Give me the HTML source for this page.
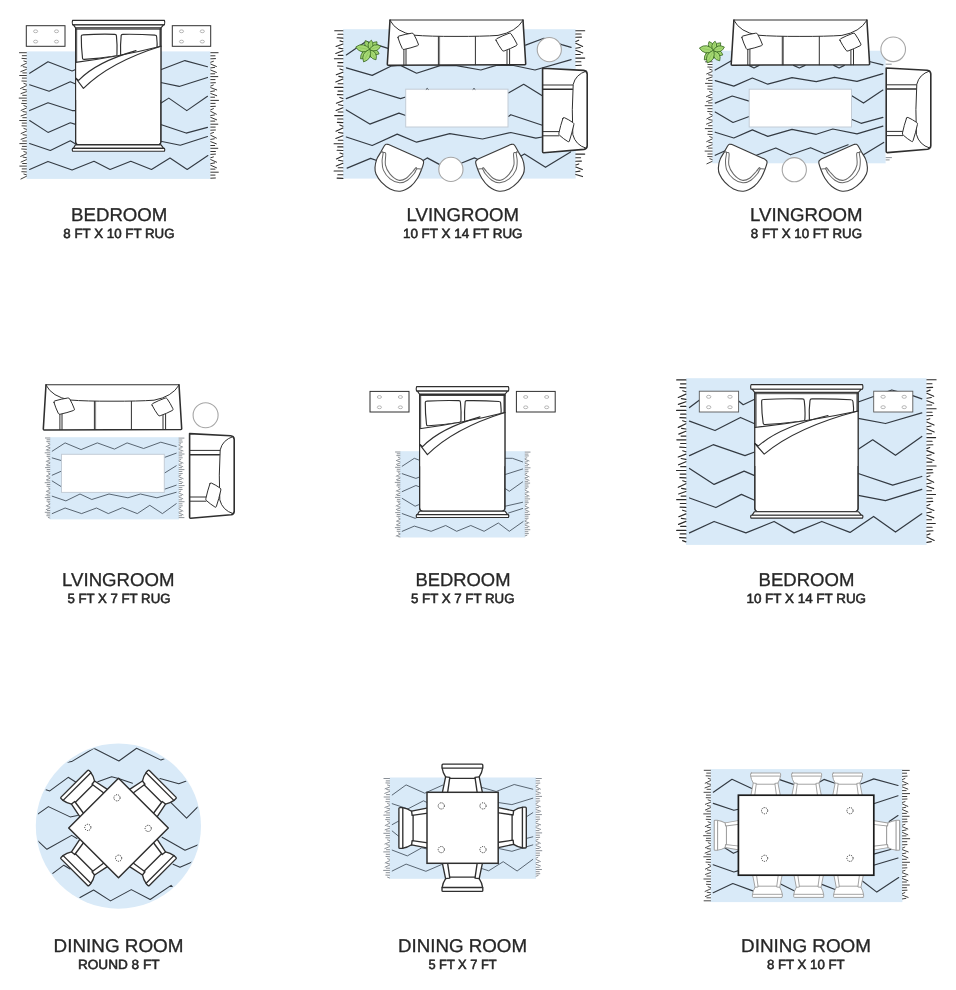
<!DOCTYPE html>
<html><head><meta charset="utf-8"><title>Rug size guide</title>
<style>
html,body{margin:0;padding:0;background:#fff;}
body{width:956px;height:990px;overflow:hidden;font-family:"Liberation Sans",sans-serif;}
svg{display:block;font-family:"Liberation Sans",sans-serif;}
text{text-rendering:geometricPrecision;}
</style></head><body>
<svg width="956" height="990" viewBox="0 0 956 990">
<rect width="956" height="990" fill="#fff"/>
<rect x="26.5" y="51.4" width="183.9" height="127.5" fill="#d9eaf8"/>
<path d="M26.4,52.7L19.5,52.7M26.4,55.7L22.3,55.7M26.4,58.7L22.0,58.4M26.4,61.7L23.9,61.0M26.4,63.3L21.1,65.9M26.4,67.4L23.2,66.7M26.4,69.4L20.8,71.6M26.4,72.9L22.8,72.9M26.4,75.5L19.7,75.5M26.4,78.1L22.3,78.1M26.4,81.2L21.9,81.0M26.4,84.2L23.9,83.4M26.4,85.7L20.6,88.5M26.4,89.9L22.9,89.3M26.4,91.7L21.0,93.6M26.4,95.3L22.7,95.3M26.4,98.1L19.2,98.1M26.4,100.7L22.4,100.7M26.4,103.6L21.7,103.4M26.4,106.5L23.9,105.6M26.4,108.1L21.1,110.4M26.4,112.1L22.9,111.6M26.4,114.1L21.1,115.9M26.4,117.7L22.8,117.7M26.4,120.5L19.7,120.5M26.4,123.1L22.2,123.1M26.4,126.0L22.0,125.8M26.4,129.3L23.9,128.5M26.4,131.2L21.1,133.5M26.4,135.2L23.0,134.7M26.4,137.4L21.1,139.3M26.4,141.0L22.7,141.0M26.4,143.6L19.8,143.6M26.4,146.4L22.3,146.4M26.4,149.3L21.7,149.0M26.4,152.3L23.9,151.6M26.4,153.8L20.7,156.4M26.4,157.7L23.1,157.1M26.4,159.7L21.1,162.0M26.4,163.5L22.6,163.5M26.4,166.1L19.8,166.1M26.4,168.9L22.2,168.9M26.4,171.9L21.8,171.7M26.4,174.8L23.9,174.1M26.4,176.3L20.9,179.0" fill="none" stroke="#2a2a2a" stroke-width="0.90" stroke-linecap="round"/>
<path d="M210.8,52.7L218.1,52.7M210.8,55.8L215.0,55.8M210.8,58.8L215.5,58.6M210.8,62.2L213.4,61.3M210.8,64.1L216.4,66.5M210.8,67.9L214.6,67.4M210.8,70.1L216.4,72.4M210.8,73.8L214.7,73.8M210.8,76.6L217.8,76.6M210.8,79.6L215.0,79.6M210.8,82.9L215.4,82.7M210.8,86.0L213.3,85.0M210.8,87.7L216.7,89.9M210.8,91.5L214.5,90.9M210.8,93.5L216.7,95.7M210.8,97.2L214.6,97.2M210.8,100.4L218.5,100.4M210.8,103.4L215.1,103.4M210.8,106.5L215.4,106.3M210.8,109.7L213.4,108.7M210.8,111.4L216.3,114.2M210.8,115.5L214.4,115.0M210.8,117.4L216.6,119.8M210.8,121.1L214.8,121.1M210.8,124.2L217.8,124.2M210.8,127.1L215.2,127.1M210.8,130.2L215.4,130.0M210.8,133.4L213.5,132.5M210.8,135.3L216.4,138.1M210.8,139.4L214.3,138.8M210.8,141.7L216.3,143.8M210.8,145.5L214.7,145.5M210.8,148.3L217.8,148.3M210.8,151.5L215.4,151.5M210.8,154.4L215.5,154.1M210.8,157.7L213.4,156.9M210.8,159.6L216.6,162.2M210.8,163.6L214.6,162.9M210.8,165.3L216.5,167.8M210.8,169.1L215.0,169.1M210.8,172.2L218.3,172.2M210.8,175.1L215.0,175.1M210.8,178.2L215.4,178.0" fill="none" stroke="#2a2a2a" stroke-width="0.95" stroke-linecap="round"/>
<polyline points="29.6,73.3 48.0,61.8 72.1,71.0 75.6,69.4" fill="none" stroke="#333a42" stroke-width="1.1" stroke-linejoin="round" stroke-linecap="round" />
<polyline points="29.6,84.8 49.1,91.2 70.3,81.8 75.6,84.1" fill="none" stroke="#333a42" stroke-width="1.1" stroke-linejoin="round" stroke-linecap="round" />
<polyline points="29.6,110.6 48.0,102.8 72.1,110.6 75.6,110.6" fill="none" stroke="#333a42" stroke-width="1.1" stroke-linejoin="round" stroke-linecap="round" />
<polyline points="29.6,120.5 48.0,132.4 70.3,122.8 75.6,124.4" fill="none" stroke="#333a42" stroke-width="1.1" stroke-linejoin="round" stroke-linecap="round" />
<polyline points="29.6,143.5 50.3,150.4 70.3,140.7 75.6,144.0" fill="none" stroke="#333a42" stroke-width="1.1" stroke-linejoin="round" stroke-linecap="round" />
<polyline points="29.6,169.5 48.0,161.4 72.1,170.0 94.0,161.2 110.1,169.5 130.8,161.2 151.5,169.5 170.0,158.0 187.2,169.5 207.9,155.5" fill="none" stroke="#333a42" stroke-width="1.1" stroke-linejoin="round" stroke-linecap="round" />
<polyline points="160.7,69.8 184.9,60.6 207.5,66.8" fill="none" stroke="#333a42" stroke-width="1.1" stroke-linejoin="round" stroke-linecap="round" />
<polyline points="160.7,82.5 179.2,86.4 207.5,77.4" fill="none" stroke="#333a42" stroke-width="1.1" stroke-linejoin="round" stroke-linecap="round" />
<polyline points="160.7,103.2 168.8,98.1 186.8,110.6 207.5,96.3" fill="none" stroke="#333a42" stroke-width="1.1" stroke-linejoin="round" stroke-linecap="round" />
<polyline points="160.7,124.4 186.1,133.1 207.5,127.4" fill="none" stroke="#333a42" stroke-width="1.1" stroke-linejoin="round" stroke-linecap="round" />
<polyline points="160.7,141.2 180.3,145.3 207.5,136.6" fill="none" stroke="#333a42" stroke-width="1.1" stroke-linejoin="round" stroke-linecap="round" />
<rect x="26.3" y="25.7" width="38.7" height="20.6" rx="0" fill="#fff" stroke="#2f2f2f" stroke-width="1.0"/>
<ellipse cx="35.6" cy="31.3" rx="2.1" ry="1.4" fill="none" stroke="#999" stroke-width="0.7"/>
<ellipse cx="35.6" cy="41.6" rx="2.1" ry="1.4" fill="none" stroke="#999" stroke-width="0.7"/>
<ellipse cx="56.5" cy="31.3" rx="2.1" ry="1.4" fill="none" stroke="#999" stroke-width="0.7"/>
<ellipse cx="56.5" cy="41.6" rx="2.1" ry="1.4" fill="none" stroke="#999" stroke-width="0.7"/>
<rect x="172.3" y="25.7" width="38.4" height="20.6" rx="0" fill="#fff" stroke="#2f2f2f" stroke-width="1.0"/>
<ellipse cx="181.5" cy="31.3" rx="2.1" ry="1.4" fill="none" stroke="#999" stroke-width="0.7"/>
<ellipse cx="181.5" cy="41.6" rx="2.1" ry="1.4" fill="none" stroke="#999" stroke-width="0.7"/>
<ellipse cx="202.3" cy="31.3" rx="2.1" ry="1.4" fill="none" stroke="#999" stroke-width="0.7"/>
<ellipse cx="202.3" cy="41.6" rx="2.1" ry="1.4" fill="none" stroke="#999" stroke-width="0.7"/>
<path d="M 75.6,28.0 L 75.6,141.5 Q 75.6,144.9 79.0,144.9 L 157.5,144.9 Q 160.9,144.9 160.9,141.5 L 160.9,28.0 Z" fill="#fff" stroke="#2f2f2f" stroke-width="1.15" stroke-linejoin="round" stroke-linecap="round" />
<polyline points="76.7,29.0 76.7,62.0" fill="none" stroke="#2f2f2f" stroke-width="0.8049999999999999" stroke-linejoin="round" stroke-linecap="round" />
<polyline points="159.9,29.0 159.9,46.0" fill="none" stroke="#2f2f2f" stroke-width="0.8049999999999999" stroke-linejoin="round" stroke-linecap="round" />
<path d="M 72.6,20.3 L 164.4,20.3 Q 165.2,22.5 164.4,24.8 L 72.6,24.8 Q 71.8,22.5 72.6,20.3 Z" fill="#fff" stroke="#2f2f2f" stroke-width="1.15" stroke-linejoin="round" stroke-linecap="round" />
<path d="M 73.4,24.8 L 163.6,24.8 L 161.2,27.7 L 75.4,27.7 Z" fill="#fff" stroke="#2f2f2f" stroke-width="1.15" stroke-linejoin="round" stroke-linecap="round" />
<polyline points="75.6,29.2 160.9,29.2" fill="none" stroke="#2f2f2f" stroke-width="0.9199999999999999" stroke-linejoin="round" stroke-linecap="round" />
<path d="M81.29,36.50Q81.20,34.90 82.80,34.87Q98.77,33.90 114.80,34.33Q116.40,34.30 116.44,35.90Q117.40,45.11 116.96,54.40Q117.00,56.00 115.41,56.17Q99.83,58.50 84.19,59.43Q82.60,59.60 82.51,58.00Q81.20,47.29 81.29,36.50Z" fill="#fff" stroke="#2f2f2f" stroke-width="1.15" stroke-linejoin="round" stroke-linecap="round" />
<path d="M121.16,35.90Q121.20,34.30 122.80,34.34Q138.90,34.05 155.00,35.16Q156.60,35.20 156.64,36.80Q157.50,43.57 156.96,50.40Q157.00,52.00 155.41,52.17Q138.80,54.70 122.19,55.83Q120.60,56.00 120.64,54.40Q120.20,45.18 121.16,35.90Z" fill="#fff" stroke="#2f2f2f" stroke-width="1.15" stroke-linejoin="round" stroke-linecap="round" />
<path d="M 75.6,62.4 Q 120.0,56.0 160.9,46.2 L 160.9,100.0 L 75.6,100.0 Z" fill="#fff" stroke="none" stroke-width="0" stroke-linejoin="round" stroke-linecap="round" />
<path d="M 75.6,62.4 Q 120.0,56.5 160.9,46.2" fill="none" stroke="#2f2f2f" stroke-width="1.15" stroke-linejoin="round" stroke-linecap="round" />
<path d="M 75.6,78.0 L 78.6,80.4 Q 96.0,62.0 136.0,50.6" fill="none" stroke="#2f2f2f" stroke-width="1.15" stroke-linejoin="round" stroke-linecap="round" />
<path d="M 75.6,78.0 L 83.4,88.4 Q 110.0,62.0 160.9,46.2" fill="none" stroke="#2f2f2f" stroke-width="1.15" stroke-linejoin="round" stroke-linecap="round" />
<path d="M 75.6,28.0 L 75.6,141.5 Q 75.6,144.9 79.0,144.9 L 157.5,144.9 Q 160.9,144.9 160.9,141.5 L 160.9,28.0" fill="none" stroke="#2f2f2f" stroke-width="1.15" stroke-linejoin="round" stroke-linecap="round" />
<path d="M 75.4,144.9 L 161.1,144.9 L 163.6,148.3 L 73.4,148.3 Z" fill="#fff" stroke="#2f2f2f" stroke-width="1.15" stroke-linejoin="round" stroke-linecap="round" />
<path d="M 72.6,148.3 L 164.4,148.3 Q 165.2,149.7 164.4,151.2 L 72.6,151.2 Q 71.8,149.7 72.6,148.3 Z" fill="#fff" stroke="#2f2f2f" stroke-width="1.15" stroke-linejoin="round" stroke-linecap="round" />
<rect x="343.0" y="29.2" width="232.7" height="149.4" fill="#d9eaf8"/>
<path d="M342.9,30.8L334.7,30.8M342.9,34.3L337.9,34.3M342.9,38.1L337.1,37.8M342.9,41.8L340.0,40.9M342.9,44.0L336.1,46.5M342.9,48.7L338.8,48.1M342.9,50.8L335.8,53.5M342.9,55.4L338.2,55.4M342.9,58.8L334.4,58.8M342.9,62.6L337.9,62.6M342.9,66.3L337.5,66.0M342.9,70.0L339.9,69.0M342.9,72.3L336.3,74.8M342.9,77.1L338.8,76.4M342.9,79.1L335.8,82.0M342.9,83.8L338.1,83.8M342.9,87.4L334.7,87.4M342.9,91.1L338.0,91.1M342.9,94.8L337.4,94.6M342.9,98.6L339.9,97.4M342.9,100.7L336.4,103.3M342.9,105.5L338.5,104.8M342.9,107.7L336.1,110.5M342.9,112.0L338.2,112.0M342.9,115.6L334.7,115.6M342.9,119.0L337.6,119.0M342.9,122.6L337.4,122.4M342.9,126.2L339.8,125.0M342.9,128.1L336.0,131.2M342.9,133.1L338.5,132.5M342.9,135.7L335.8,138.4M342.9,140.3L338.3,140.3M342.9,143.7L334.1,143.7M342.9,146.9L337.7,146.9M342.9,150.5L337.1,150.3M342.9,154.1L340.0,153.1M342.9,156.1L336.4,158.9M342.9,161.0L338.5,160.3M342.9,163.2L336.3,166.1M342.9,167.7L338.2,167.7M342.9,171.0L334.1,171.0M342.9,174.7L337.8,174.7M342.9,178.4L337.1,178.1" fill="none" stroke="#2a2a2a" stroke-width="1.10" stroke-linecap="round"/>
<path d="M575.8,30.8L584.7,30.8M575.8,34.0L581.1,34.0M575.8,37.3L581.5,37.1M575.8,41.4L578.7,40.2M575.8,43.2L582.6,46.5M575.8,48.2L580.2,47.5M575.8,50.2L582.8,52.9M575.8,54.5L580.3,54.5M575.8,58.1L584.7,58.1M575.8,61.8L580.9,61.8M575.8,65.5L581.2,65.2" fill="none" stroke="#2a2a2a" stroke-width="1.10" stroke-linecap="round"/>
<path d="M575.8,154.1L584.7,154.1M575.8,157.8L580.6,157.8M575.8,161.3L581.4,161.1M575.8,164.9L578.8,163.9M575.8,167.1L582.3,169.6M575.8,171.8L580.0,171.1M575.8,174.4L582.5,176.6" fill="none" stroke="#2a2a2a" stroke-width="1.10" stroke-linecap="round"/>
<polyline points="346.3,54.9 366.0,41.4 388.0,48.4" fill="none" stroke="#333a42" stroke-width="1.2" stroke-linejoin="round" stroke-linecap="round" />
<polyline points="525.6,45.1 543.9,38.3 561.7,44.6 571.1,47.4" fill="none" stroke="#333a42" stroke-width="1.2" stroke-linejoin="round" stroke-linecap="round" />
<polyline points="346.3,67.8 372.2,75.4 390.8,66.2 400.5,65.4 416.6,73.2 440.1,65.6 455.0,65.4 480.9,70.0 496.2,65.4 513.6,65.5 535.0,70.0 571.1,59.6" fill="none" stroke="#333a42" stroke-width="1.2" stroke-linejoin="round" stroke-linecap="round" />
<polyline points="346.3,98.6 369.8,89.2 400.5,98.6 405.7,97.0" fill="none" stroke="#333a42" stroke-width="1.2" stroke-linejoin="round" stroke-linecap="round" />
<polyline points="346.3,109.9 369.8,124.1 398.9,113.1 405.7,115.5" fill="none" stroke="#333a42" stroke-width="1.2" stroke-linejoin="round" stroke-linecap="round" />
<polyline points="508.4,92.9 523.7,84.3 542.3,95.7" fill="none" stroke="#333a42" stroke-width="1.2" stroke-linejoin="round" stroke-linecap="round" />
<polyline points="508.4,116.4 510.8,114.7 542.3,125.2" fill="none" stroke="#333a42" stroke-width="1.2" stroke-linejoin="round" stroke-linecap="round" />
<polyline points="346.3,137.0 372.2,145.5 397.2,134.1 416.6,142.2 449.8,133.7 482.5,139.0 510.8,132.5 535.8,138.2 542.3,137.0" fill="none" stroke="#333a42" stroke-width="1.2" stroke-linejoin="round" stroke-linecap="round" />
<polyline points="347.1,168.1 370.6,158.4 379.0,161.2" fill="none" stroke="#333a42" stroke-width="1.2" stroke-linejoin="round" stroke-linecap="round" />
<polyline points="421.5,161.6 427.2,157.9 439.3,164.4" fill="none" stroke="#333a42" stroke-width="1.2" stroke-linejoin="round" stroke-linecap="round" />
<polyline points="461.1,163.2 474.4,157.9 478.0,159.5" fill="none" stroke="#333a42" stroke-width="1.2" stroke-linejoin="round" stroke-linecap="round" />
<polyline points="519.7,156.8 524.5,153.9 545.5,167.3 570.6,151.9" fill="none" stroke="#333a42" stroke-width="1.2" stroke-linejoin="round" stroke-linecap="round" />
<polygon points="361.0,48.0 367.0,44.0 370.8,43.8 374.2,44.8 376.5,47.4 375.5,52.3 373.6,55.9 365.9,57.2 364.1,55.4" fill="#3f7327" stroke="#3f7327" stroke-width="1.5" stroke-linejoin="round"/>
<path d="M369.9,50.1Q371.8,42.5 365.3,40.6Q362.8,46.8 369.9,50.1Z" fill="#a6d974" stroke="#35651f" stroke-width="0.8" stroke-linejoin="round"/>
<path d="M369.0,48.2L366.2,42.4" stroke="#86bf55" stroke-width="0.6" fill="none"/>
<path d="M369.3,50.0Q377.6,49.0 377.0,41.8Q369.8,41.7 369.3,50.0Z" fill="#a6d974" stroke="#35651f" stroke-width="0.8" stroke-linejoin="round"/>
<path d="M370.8,48.4L375.5,43.4" stroke="#86bf55" stroke-width="0.6" fill="none"/>
<path d="M369.2,49.4Q372.7,56.7 379.1,53.9Q377.0,47.3 369.2,49.4Z" fill="#a6d974" stroke="#35651f" stroke-width="0.8" stroke-linejoin="round"/>
<path d="M371.1,50.2L377.2,53.0" stroke="#86bf55" stroke-width="0.6" fill="none"/>
<path d="M370.2,49.1Q360.0,50.2 360.6,58.9Q369.3,59.3 370.2,49.1Z" fill="#a6d974" stroke="#35651f" stroke-width="0.8" stroke-linejoin="round"/>
<path d="M368.3,51.0L362.4,57.0" stroke="#86bf55" stroke-width="0.6" fill="none"/>
<path d="M369.6,50.1Q375.3,45.3 371.4,40.2Q365.9,43.6 369.6,50.1Z" fill="#a6d974" stroke="#35651f" stroke-width="0.8" stroke-linejoin="round"/>
<path d="M370.0,48.2L371.1,42.1" stroke="#86bf55" stroke-width="0.6" fill="none"/>
<path d="M369.4,49.1Q368.1,58.4 376.0,59.8Q378.3,52.1 369.4,49.1Z" fill="#a6d974" stroke="#35651f" stroke-width="0.8" stroke-linejoin="round"/>
<path d="M370.6,51.1L374.7,57.8" stroke="#86bf55" stroke-width="0.6" fill="none"/>
<path d="M370.4,49.7Q363.3,41.2 355.7,47.0Q360.7,55.2 370.4,49.7Z" fill="#a6d974" stroke="#35651f" stroke-width="0.8" stroke-linejoin="round"/>
<path d="M367.6,49.2L358.5,47.5" stroke="#86bf55" stroke-width="0.6" fill="none"/>
<path d="M369.1,49.8Q377.5,53.2 380.7,46.1Q374.0,42.2 369.1,49.8Z" fill="#a6d974" stroke="#35651f" stroke-width="0.8" stroke-linejoin="round"/>
<path d="M371.3,49.1L378.5,46.8" stroke="#86bf55" stroke-width="0.6" fill="none"/>
<path d="M370.0,49.0Q360.2,53.3 363.6,61.9Q372.5,59.4 370.0,49.0Z" fill="#a6d974" stroke="#35651f" stroke-width="0.8" stroke-linejoin="round"/>
<path d="M368.8,51.4L364.8,59.4" stroke="#86bf55" stroke-width="0.6" fill="none"/>
<path d="M 390.0,19.8 L 523.0,19.8 L 525.7,63.9 Q 525.7,64.6 524.8,64.7 L 388.2,65.2 Q 387.3,65.2 387.3,64.3 Z" fill="#fff" stroke="none" stroke-width="0" stroke-linejoin="round" stroke-linecap="round" />
<path d="M 390.0,20.0 L 523.0,20.0" fill="none" stroke="#2f2f2f" stroke-width="1.05" stroke-linejoin="round" stroke-linecap="round" />
<path d="M 390.0,20.0 L 387.3,64.3 Q 387.3,65.2 388.2,65.2 L 524.8,64.7 Q 525.7,64.6 525.7,63.9 L 523.0,20.0" fill="none" stroke="#2f2f2f" stroke-width="1.55" stroke-linejoin="round" stroke-linecap="round" />
<path d="M 390.2,20.6 Q 396.0,32.0 414.0,35.2 Q 430.0,36.5 456.0,36.4 Q 482.0,36.5 498.0,35.4 Q 516.0,32.0 522.8,20.6" fill="none" stroke="#2f2f2f" stroke-width="1.0" stroke-linejoin="round" stroke-linecap="round" />
<polyline points="438.4,36.6 438.4,64.8" fill="none" stroke="#2f2f2f" stroke-width="1.0" stroke-linejoin="round" stroke-linecap="round" />
<polyline points="439.6,36.6 439.6,64.8" fill="none" stroke="#2f2f2f" stroke-width="0.6" stroke-linejoin="round" stroke-linecap="round" />
<polyline points="475.4,36.6 475.4,64.8" fill="none" stroke="#2f2f2f" stroke-width="1.0" stroke-linejoin="round" stroke-linecap="round" />
<polyline points="403.9,49.5 403.9,64.8" fill="none" stroke="#2f2f2f" stroke-width="1.0" stroke-linejoin="round" stroke-linecap="round" />
<polyline points="406.0,49.0 406.0,64.8" fill="none" stroke="#2f2f2f" stroke-width="1.0" stroke-linejoin="round" stroke-linecap="round" />
<polyline points="507.0,50.5 507.0,64.8" fill="none" stroke="#2f2f2f" stroke-width="1.0" stroke-linejoin="round" stroke-linecap="round" />
<polyline points="509.6,49.5 509.6,64.8" fill="none" stroke="#2f2f2f" stroke-width="1.0" stroke-linejoin="round" stroke-linecap="round" />
<path d="M398.01,37.70Q397.50,36.40 398.87,36.09Q405.10,34.19 411.73,33.21Q413.10,32.90 413.69,34.17Q416.48,38.98 418.31,44.03Q418.90,45.30 417.55,45.68Q411.05,48.01 404.15,49.42Q402.80,49.80 402.29,48.50Q399.67,43.22 398.01,37.70Z" fill="#fff" stroke="#2f2f2f" stroke-width="1.0" stroke-linejoin="round" stroke-linecap="round" />
<path d="M496.13,40.49Q495.40,39.30 496.68,38.74Q502.64,35.57 509.12,33.26Q510.40,32.70 511.10,33.91Q514.46,38.70 516.90,43.89Q517.60,45.10 516.32,45.66Q510.51,48.73 504.18,50.94Q502.90,51.50 502.17,50.31Q498.69,45.60 496.13,40.49Z" fill="#fff" stroke="#2f2f2f" stroke-width="1.0" stroke-linejoin="round" stroke-linecap="round" />
<circle cx="549.3" cy="49.6" r="12.1" fill="#fff" stroke="#a6a6a6" stroke-width="1.1"/>
<rect x="405.7" y="89.2" width="102.3" height="37.8" rx="0" fill="#fff" stroke="#c3ccd6" stroke-width="1.0"/>
<polyline points="426.2,89.3 427.2,88.4 428.2,89.3" fill="none" stroke="#333a42" stroke-width="0.9" stroke-linejoin="round" stroke-linecap="round" />
<polyline points="473.0,89.3 474.0,88.4 475.0,89.3" fill="none" stroke="#333a42" stroke-width="0.9" stroke-linejoin="round" stroke-linecap="round" />
<path d="M 542.6,68.2 L 583.6,70.4 Q 587.0,70.8 587.2,74.0 L 587.2,146.0 Q 587.0,149.0 584.0,149.4 L 543.6,152.8 Q 542.6,152.8 542.6,151.8 Z" fill="#fff" stroke="#2f2f2f" stroke-width="1.6" stroke-linejoin="round" stroke-linecap="round" />
<path d="M 586.0,71.2 Q 575.5,74.5 573.2,84.5 Q 571.6,110.0 572.8,134.5 Q 575.5,145.0 586.0,148.2" fill="none" stroke="#2f2f2f" stroke-width="1.0" stroke-linejoin="round" stroke-linecap="round" />
<polyline points="543.0,85.0 572.8,85.0" fill="none" stroke="#2f2f2f" stroke-width="1.0" stroke-linejoin="round" stroke-linecap="round" />
<polyline points="543.0,89.3 572.4,89.3" fill="none" stroke="#2f2f2f" stroke-width="1.5" stroke-linejoin="round" stroke-linecap="round" />
<polyline points="543.0,131.6 559.0,131.6" fill="none" stroke="#2f2f2f" stroke-width="1.0" stroke-linejoin="round" stroke-linecap="round" />
<polyline points="543.0,135.8 559.0,135.8" fill="none" stroke="#2f2f2f" stroke-width="1.0" stroke-linejoin="round" stroke-linecap="round" />
<path d="M562.93,118.35Q563.30,117.00 564.51,117.70Q568.88,119.67 572.99,122.60Q574.20,123.30 573.83,124.65Q572.02,133.13 569.37,141.05Q569.00,142.40 567.88,141.56Q563.62,138.93 559.62,135.34Q558.50,134.50 558.87,133.15Q560.48,125.47 562.93,118.35Z" fill="#fff" stroke="#2f2f2f" stroke-width="1.0" stroke-linejoin="round" stroke-linecap="round" />
<path d="M421.2,159.1C421.6,159.4 422.9,160.2 423.3,160.9C423.7,161.6 423.8,162.0 423.5,163.4C423.2,164.8 422.5,167.0 421.5,169.5C420.5,172.0 419.3,175.4 417.5,178.2C415.7,181.0 413.7,184.0 410.8,186.2C407.9,188.4 403.6,190.8 400.1,191.2C396.7,191.6 393.2,190.4 390.1,188.9C387.0,187.4 383.8,184.7 381.4,182.2C379.0,179.7 377.1,176.5 376.0,174.1C374.9,171.7 374.9,169.9 375.0,167.5C375.1,165.1 375.8,161.9 376.7,159.4C377.6,156.9 379.4,154.6 380.7,152.4C381.9,150.2 383.3,147.3 384.2,146.0C385.1,144.7 385.3,144.6 386.0,144.3C386.7,144.1 388.2,144.5 388.6,144.5L421.2,159.1Z" fill="#fff" stroke="#3c3c3c" stroke-width="1.15" stroke-linejoin="round" stroke-linecap="round" />
<path d="M380.9,152.2C381.3,152.3 382.9,151.2 383.1,152.6C383.3,154.0 382.1,157.9 382.1,160.8C382.2,163.7 382.1,167.1 383.4,170.1C384.7,173.1 387.4,176.7 390.1,178.8C392.8,180.9 396.6,182.6 399.5,182.8C402.4,183.0 405.1,181.8 407.5,180.2C409.9,178.6 412.6,175.4 414.2,173.5C415.8,171.6 415.7,169.6 416.9,168.9C418.1,168.2 420.6,169.1 421.4,169.2" fill="none" stroke="#6a6a6a" stroke-width="1.035" stroke-linejoin="round" stroke-linecap="round" />
<path d="M383.1,152.6C383.5,152.8 385.3,151.6 385.7,153.6C386.1,155.6 384.7,161.4 385.4,164.8C386.1,168.2 387.9,171.5 390.1,174.1C392.3,176.7 396.1,179.5 398.8,180.2C401.5,180.9 403.9,179.6 406.2,178.2C408.5,176.8 411.2,173.2 412.8,171.5C414.4,169.8 415.2,168.1 415.9,167.7C416.6,167.3 416.7,168.7 416.9,168.9" fill="none" stroke="#6a6a6a" stroke-width="1.035" stroke-linejoin="round" stroke-linecap="round" />
<path d="M478.1,159.1C477.8,159.4 476.4,160.2 476.0,160.9C475.6,161.6 475.5,162.0 475.8,163.4C476.1,164.8 476.8,167.0 477.8,169.5C478.8,172.0 480.0,175.4 481.8,178.2C483.6,181.0 485.6,184.0 488.5,186.2C491.4,188.4 495.8,190.8 499.2,191.2C502.7,191.6 506.1,190.4 509.2,188.9C512.3,187.4 515.6,184.7 517.9,182.2C520.3,179.7 522.2,176.5 523.3,174.1C524.4,171.7 524.4,169.9 524.3,167.5C524.2,165.1 523.6,161.9 522.6,159.4C521.7,156.9 519.9,154.6 518.6,152.4C517.4,150.2 516.0,147.3 515.1,146.0C514.2,144.7 514.0,144.6 513.3,144.3C512.6,144.1 511.1,144.5 510.7,144.5L478.1,159.1Z" fill="#fff" stroke="#3c3c3c" stroke-width="1.15" stroke-linejoin="round" stroke-linecap="round" />
<path d="M518.4,152.2C518.0,152.3 516.4,151.2 516.2,152.6C516.0,154.0 517.2,157.9 517.2,160.8C517.2,163.7 517.2,167.1 515.9,170.1C514.6,173.1 511.9,176.7 509.2,178.8C506.5,180.9 502.7,182.6 499.8,182.8C496.9,183.0 494.3,181.8 491.8,180.2C489.4,178.6 486.7,175.4 485.1,173.5C483.5,171.6 483.6,169.6 482.4,168.9C481.2,168.2 478.7,169.1 477.9,169.2" fill="none" stroke="#6a6a6a" stroke-width="1.035" stroke-linejoin="round" stroke-linecap="round" />
<path d="M516.2,152.6C515.8,152.8 514.0,151.6 513.6,153.6C513.2,155.6 514.6,161.4 513.9,164.8C513.2,168.2 511.4,171.5 509.2,174.1C507.0,176.7 503.2,179.5 500.5,180.2C497.8,180.9 495.4,179.6 493.1,178.2C490.8,176.8 488.1,173.2 486.5,171.5C484.9,169.8 484.1,168.1 483.4,167.7C482.7,167.3 482.6,168.7 482.4,168.9" fill="none" stroke="#6a6a6a" stroke-width="1.035" stroke-linejoin="round" stroke-linecap="round" />
<circle cx="450.9" cy="169.4" r="12.1" fill="#fff" stroke="#a6a6a6" stroke-width="1.1"/>
<rect x="712.2" y="50.7" width="173.4" height="112.6" fill="#d9eaf8"/>
<path d="M712.1,61.8L705.6,61.8M712.1,64.5L708.0,64.5M712.1,67.2L707.8,67.0M712.1,70.1L709.7,69.2M712.1,71.6L706.7,73.9M712.1,75.3L708.6,74.8M712.1,77.0L706.4,79.0M712.1,80.4L708.5,80.4M712.1,83.4L705.5,83.4M712.1,86.2L708.0,86.2M712.1,89.2L707.7,89.0M712.1,92.4L709.6,91.6M712.1,94.2L706.5,96.6M712.1,97.9L708.6,97.3M712.1,99.7L706.6,101.6M712.1,102.9L708.5,102.9M712.1,105.7L705.2,105.7M712.1,108.7L707.9,108.7M712.1,111.7L707.7,111.5M712.1,114.8L709.7,113.9M712.1,116.1L706.8,118.8M712.1,120.1L708.7,119.6M712.1,121.9L706.5,124.1M712.1,125.7L708.5,125.7M712.1,128.6L705.3,128.6M712.1,131.4L708.2,131.4M712.1,134.5L707.8,134.3M712.1,137.5L709.7,136.6M712.1,139.0L706.7,141.6M712.1,142.8L708.8,142.3M712.1,144.8L706.9,146.7M712.1,148.1L708.3,148.1M712.1,151.1L705.1,151.1M712.1,154.0L707.9,154.0M712.1,156.7L707.7,156.5M712.1,159.5L709.8,158.8M712.1,161.4L706.9,163.8" fill="none" stroke="#2a2a2a" stroke-width="0.88" stroke-linecap="round"/>
<path d="M886.1,64.2L891.3,64.2" fill="none" stroke="#5d656e" stroke-width="0.70" stroke-linecap="round"/>
<path d="M886.1,157.6L891.5,157.6M886.1,159.9L889.2,159.9" fill="none" stroke="#5d656e" stroke-width="0.70" stroke-linecap="round"/>
<polyline points="715.2,70.1 731.4,60.7" fill="none" stroke="#333a42" stroke-width="1.2" stroke-linejoin="round" stroke-linecap="round" />
<polyline points="749.0,65.4 754.0,68.0 759.0,65.4" fill="none" stroke="#333a42" stroke-width="1.2" stroke-linejoin="round" stroke-linecap="round" />
<polyline points="793.6,65.4 799.3,68.0 805.0,65.4" fill="none" stroke="#333a42" stroke-width="1.2" stroke-linejoin="round" stroke-linecap="round" />
<polyline points="833.8,65.4 839.1,68.0 844.3,65.4" fill="none" stroke="#333a42" stroke-width="1.2" stroke-linejoin="round" stroke-linecap="round" />
<polyline points="869.2,61.5 882.9,64.8" fill="none" stroke="#333a42" stroke-width="1.2" stroke-linejoin="round" stroke-linecap="round" />
<polyline points="715.2,80.6 733.8,86.1 752.4,78.0 767.8,84.2 792.0,77.7 816.3,81.7 834.4,77.4 857.0,81.4 882.9,73.7" fill="none" stroke="#333a42" stroke-width="1.2" stroke-linejoin="round" stroke-linecap="round" />
<polyline points="715.2,103.1 732.2,96.0 749.2,101.1" fill="none" stroke="#333a42" stroke-width="1.2" stroke-linejoin="round" stroke-linecap="round" />
<polyline points="715.2,112.1 733.0,122.5 749.2,116.5" fill="none" stroke="#333a42" stroke-width="1.2" stroke-linejoin="round" stroke-linecap="round" />
<polyline points="851.4,95.5 863.5,103.1 882.9,90.1" fill="none" stroke="#333a42" stroke-width="1.2" stroke-linejoin="round" stroke-linecap="round" />
<polyline points="851.4,119.2 861.1,123.3 882.9,117.3" fill="none" stroke="#333a42" stroke-width="1.2" stroke-linejoin="round" stroke-linecap="round" />
<polyline points="715.2,132.2 733.8,138.0 752.4,129.9 767.8,136.4 792.0,129.4 816.3,134.3 832.8,129.0 857.0,133.8 882.9,126.2" fill="none" stroke="#333a42" stroke-width="1.2" stroke-linejoin="round" stroke-linecap="round" />
<polyline points="715.2,155.3 725.7,150.5" fill="none" stroke="#333a42" stroke-width="1.2" stroke-linejoin="round" stroke-linecap="round" />
<polyline points="756.4,155.3 775.8,148.0 790.4,154.8 810.6,147.7 824.7,153.7 848.1,144.8" fill="none" stroke="#333a42" stroke-width="1.2" stroke-linejoin="round" stroke-linecap="round" />
<polyline points="862.7,155.3 883.7,142.4" fill="none" stroke="#333a42" stroke-width="1.2" stroke-linejoin="round" stroke-linecap="round" />
<polygon points="704.7,49.0 710.7,45.0 714.5,44.8 717.9,45.8 720.2,48.4 719.2,53.3 717.3,56.9 709.6,58.2 707.8,56.4" fill="#3f7327" stroke="#3f7327" stroke-width="1.5" stroke-linejoin="round"/>
<path d="M713.6,51.1Q715.5,43.5 709.0,41.6Q706.5,47.8 713.6,51.1Z" fill="#a6d974" stroke="#35651f" stroke-width="0.8" stroke-linejoin="round"/>
<path d="M712.7,49.2L709.9,43.4" stroke="#86bf55" stroke-width="0.6" fill="none"/>
<path d="M713.0,51.0Q721.3,50.0 720.7,42.8Q713.5,42.7 713.0,51.0Z" fill="#a6d974" stroke="#35651f" stroke-width="0.8" stroke-linejoin="round"/>
<path d="M714.5,49.4L719.2,44.4" stroke="#86bf55" stroke-width="0.6" fill="none"/>
<path d="M712.9,50.4Q716.4,57.7 722.8,54.9Q720.7,48.3 712.9,50.4Z" fill="#a6d974" stroke="#35651f" stroke-width="0.8" stroke-linejoin="round"/>
<path d="M714.8,51.2L720.9,54.0" stroke="#86bf55" stroke-width="0.6" fill="none"/>
<path d="M713.9,50.1Q703.7,51.2 704.3,59.9Q713.0,60.3 713.9,50.1Z" fill="#a6d974" stroke="#35651f" stroke-width="0.8" stroke-linejoin="round"/>
<path d="M712.0,52.0L706.1,58.0" stroke="#86bf55" stroke-width="0.6" fill="none"/>
<path d="M713.3,51.1Q719.0,46.3 715.1,41.2Q709.6,44.6 713.3,51.1Z" fill="#a6d974" stroke="#35651f" stroke-width="0.8" stroke-linejoin="round"/>
<path d="M713.7,49.2L714.8,43.1" stroke="#86bf55" stroke-width="0.6" fill="none"/>
<path d="M713.1,50.1Q711.8,59.4 719.7,60.8Q722.0,53.1 713.1,50.1Z" fill="#a6d974" stroke="#35651f" stroke-width="0.8" stroke-linejoin="round"/>
<path d="M714.3,52.1L718.4,58.8" stroke="#86bf55" stroke-width="0.6" fill="none"/>
<path d="M714.1,50.7Q707.0,42.2 699.4,48.0Q704.4,56.2 714.1,50.7Z" fill="#a6d974" stroke="#35651f" stroke-width="0.8" stroke-linejoin="round"/>
<path d="M711.3,50.2L702.2,48.5" stroke="#86bf55" stroke-width="0.6" fill="none"/>
<path d="M712.9,50.8Q721.2,54.2 724.4,47.1Q717.7,43.2 712.9,50.8Z" fill="#a6d974" stroke="#35651f" stroke-width="0.8" stroke-linejoin="round"/>
<path d="M715.0,50.1L722.2,47.8" stroke="#86bf55" stroke-width="0.6" fill="none"/>
<path d="M713.7,50.0Q703.9,54.3 707.3,62.9Q716.2,60.4 713.7,50.0Z" fill="#a6d974" stroke="#35651f" stroke-width="0.8" stroke-linejoin="round"/>
<path d="M712.5,52.4L708.5,60.4" stroke="#86bf55" stroke-width="0.6" fill="none"/>
<path d="M 733.9,19.8 L 866.9,19.8 L 869.6,63.9 Q 869.6,64.6 868.7,64.7 L 732.1,65.2 Q 731.2,65.2 731.2,64.3 Z" fill="#fff" stroke="none" stroke-width="0" stroke-linejoin="round" stroke-linecap="round" />
<path d="M 733.9,20.0 L 866.9,20.0" fill="none" stroke="#2f2f2f" stroke-width="1.05" stroke-linejoin="round" stroke-linecap="round" />
<path d="M 733.9,20.0 L 731.2,64.3 Q 731.2,65.2 732.1,65.2 L 868.7,64.7 Q 869.6,64.6 869.6,63.9 L 866.9,20.0" fill="none" stroke="#2f2f2f" stroke-width="1.55" stroke-linejoin="round" stroke-linecap="round" />
<path d="M 734.1,20.6 Q 739.9,32.0 757.9,35.2 Q 773.9,36.5 799.9,36.4 Q 825.9,36.5 841.9,35.4 Q 859.9,32.0 866.7,20.6" fill="none" stroke="#2f2f2f" stroke-width="1.0" stroke-linejoin="round" stroke-linecap="round" />
<polyline points="782.3,36.6 782.3,64.8" fill="none" stroke="#2f2f2f" stroke-width="1.0" stroke-linejoin="round" stroke-linecap="round" />
<polyline points="783.5,36.6 783.5,64.8" fill="none" stroke="#2f2f2f" stroke-width="0.6" stroke-linejoin="round" stroke-linecap="round" />
<polyline points="819.3,36.6 819.3,64.8" fill="none" stroke="#2f2f2f" stroke-width="1.0" stroke-linejoin="round" stroke-linecap="round" />
<polyline points="747.8,49.5 747.8,64.8" fill="none" stroke="#2f2f2f" stroke-width="1.0" stroke-linejoin="round" stroke-linecap="round" />
<polyline points="749.9,49.0 749.9,64.8" fill="none" stroke="#2f2f2f" stroke-width="1.0" stroke-linejoin="round" stroke-linecap="round" />
<polyline points="850.9,50.5 850.9,64.8" fill="none" stroke="#2f2f2f" stroke-width="1.0" stroke-linejoin="round" stroke-linecap="round" />
<polyline points="853.5,49.5 853.5,64.8" fill="none" stroke="#2f2f2f" stroke-width="1.0" stroke-linejoin="round" stroke-linecap="round" />
<path d="M741.91,37.70Q741.40,36.40 742.77,36.09Q749.00,34.19 755.63,33.21Q757.00,32.90 757.59,34.17Q760.38,38.98 762.21,44.03Q762.80,45.30 761.45,45.68Q754.95,48.01 748.05,49.42Q746.70,49.80 746.19,48.50Q743.57,43.22 741.91,37.70Z" fill="#fff" stroke="#2f2f2f" stroke-width="1.0" stroke-linejoin="round" stroke-linecap="round" />
<path d="M840.03,40.49Q839.30,39.30 840.58,38.74Q846.54,35.57 853.02,33.26Q854.30,32.70 855.00,33.91Q858.36,38.70 860.80,43.89Q861.50,45.10 860.22,45.66Q854.41,48.73 848.08,50.94Q846.80,51.50 846.07,50.31Q842.59,45.60 840.03,40.49Z" fill="#fff" stroke="#2f2f2f" stroke-width="1.0" stroke-linejoin="round" stroke-linecap="round" />
<circle cx="893.2" cy="49.3" r="12.3" fill="#fff" stroke="#a6a6a6" stroke-width="1.1"/>
<rect x="749.2" y="89.2" width="102.3" height="37.8" rx="0" fill="#fff" stroke="#c3ccd6" stroke-width="1.0"/>
<path d="M 886.2,68.0 L 927.2,70.2 Q 930.6,70.6 930.8,73.8 L 930.8,145.8 Q 930.6,148.8 927.6,149.2 L 887.2,152.6 Q 886.2,152.6 886.2,151.6 Z" fill="#fff" stroke="#2f2f2f" stroke-width="1.6" stroke-linejoin="round" stroke-linecap="round" />
<path d="M 929.6,71.0 Q 919.1,74.3 916.8,84.3 Q 915.2,109.8 916.4,134.3 Q 919.1,144.8 929.6,148.0" fill="none" stroke="#2f2f2f" stroke-width="1.0" stroke-linejoin="round" stroke-linecap="round" />
<polyline points="886.6,84.8 916.4,84.8" fill="none" stroke="#2f2f2f" stroke-width="1.0" stroke-linejoin="round" stroke-linecap="round" />
<polyline points="886.6,89.1 916.0,89.1" fill="none" stroke="#2f2f2f" stroke-width="1.5" stroke-linejoin="round" stroke-linecap="round" />
<polyline points="886.6,131.4 902.6,131.4" fill="none" stroke="#2f2f2f" stroke-width="1.0" stroke-linejoin="round" stroke-linecap="round" />
<polyline points="886.6,135.6 902.6,135.6" fill="none" stroke="#2f2f2f" stroke-width="1.0" stroke-linejoin="round" stroke-linecap="round" />
<path d="M906.53,118.15Q906.90,116.80 908.11,117.50Q912.48,119.47 916.59,122.40Q917.80,123.10 917.43,124.45Q915.62,132.93 912.97,140.85Q912.60,142.20 911.48,141.36Q907.22,138.73 903.22,135.14Q902.10,134.30 902.47,132.95Q904.08,125.27 906.53,118.15Z" fill="#fff" stroke="#2f2f2f" stroke-width="1.0" stroke-linejoin="round" stroke-linecap="round" />
<path d="M764.6,159.1C764.9,159.4 766.3,160.2 766.7,160.9C767.1,161.6 767.2,162.0 766.9,163.4C766.6,164.8 765.9,167.0 764.9,169.5C763.9,172.0 762.7,175.4 760.9,178.2C759.1,181.0 757.1,184.0 754.2,186.2C751.3,188.4 747.0,190.8 743.5,191.2C740.0,191.6 736.6,190.4 733.5,188.9C730.4,187.4 727.1,184.7 724.8,182.2C722.4,179.7 720.5,176.5 719.4,174.1C718.3,171.7 718.3,169.9 718.4,167.5C718.5,165.1 719.1,161.9 720.1,159.4C721.0,156.9 722.8,154.6 724.1,152.4C725.3,150.2 726.7,147.3 727.6,146.0C728.5,144.7 728.7,144.6 729.4,144.3C730.1,144.1 731.6,144.5 732.0,144.5L764.6,159.1Z" fill="#fff" stroke="#3c3c3c" stroke-width="1.15" stroke-linejoin="round" stroke-linecap="round" />
<path d="M724.3,152.2C724.7,152.3 726.3,151.2 726.5,152.6C726.7,154.0 725.5,157.9 725.5,160.8C725.5,163.7 725.5,167.1 726.8,170.1C728.1,173.1 730.8,176.7 733.5,178.8C736.2,180.9 740.0,182.6 742.9,182.8C745.8,183.0 748.5,181.8 750.9,180.2C753.3,178.6 756.0,175.4 757.6,173.5C759.2,171.6 759.1,169.6 760.3,168.9C761.5,168.2 764.0,169.1 764.8,169.2" fill="none" stroke="#6a6a6a" stroke-width="1.035" stroke-linejoin="round" stroke-linecap="round" />
<path d="M726.5,152.6C726.9,152.8 728.7,151.6 729.1,153.6C729.5,155.6 728.1,161.4 728.8,164.8C729.5,168.2 731.3,171.5 733.5,174.1C735.7,176.7 739.5,179.5 742.2,180.2C744.9,180.9 747.3,179.6 749.6,178.2C751.9,176.8 754.6,173.2 756.2,171.5C757.8,169.8 758.6,168.1 759.3,167.7C760.0,167.3 760.1,168.7 760.3,168.9" fill="none" stroke="#6a6a6a" stroke-width="1.035" stroke-linejoin="round" stroke-linecap="round" />
<path d="M821.2,159.1C820.9,159.4 819.5,160.2 819.1,160.9C818.7,161.6 818.6,162.0 818.9,163.4C819.2,164.8 819.9,167.0 820.9,169.5C821.9,172.0 823.1,175.4 824.9,178.2C826.7,181.0 828.7,184.0 831.6,186.2C834.5,188.4 838.9,190.8 842.3,191.2C845.8,191.6 849.2,190.4 852.3,188.9C855.4,187.4 858.7,184.7 861.0,182.2C863.4,179.7 865.3,176.5 866.4,174.1C867.5,171.7 867.5,169.9 867.4,167.5C867.3,165.1 866.7,161.9 865.7,159.4C864.8,156.9 863.0,154.6 861.7,152.4C860.5,150.2 859.1,147.3 858.2,146.0C857.3,144.7 857.1,144.6 856.4,144.3C855.7,144.1 854.2,144.5 853.8,144.5L821.2,159.1Z" fill="#fff" stroke="#3c3c3c" stroke-width="1.15" stroke-linejoin="round" stroke-linecap="round" />
<path d="M861.5,152.2C861.1,152.3 859.5,151.2 859.3,152.6C859.1,154.0 860.4,157.9 860.3,160.8C860.3,163.7 860.3,167.1 859.0,170.1C857.7,173.1 855.0,176.7 852.3,178.8C849.6,180.9 845.8,182.6 842.9,182.8C840.0,183.0 837.4,181.8 834.9,180.2C832.5,178.6 829.8,175.4 828.2,173.5C826.6,171.6 826.7,169.6 825.5,168.9C824.3,168.2 821.8,169.1 821.0,169.2" fill="none" stroke="#6a6a6a" stroke-width="1.035" stroke-linejoin="round" stroke-linecap="round" />
<path d="M859.3,152.6C858.9,152.8 857.1,151.6 856.7,153.6C856.3,155.6 857.7,161.4 857.0,164.8C856.3,168.2 854.5,171.5 852.3,174.1C850.1,176.7 846.3,179.5 843.6,180.2C840.9,180.9 838.5,179.6 836.2,178.2C833.9,176.8 831.2,173.2 829.6,171.5C828.0,169.8 827.2,168.1 826.5,167.7C825.8,167.3 825.7,168.7 825.5,168.9" fill="none" stroke="#6a6a6a" stroke-width="1.035" stroke-linejoin="round" stroke-linecap="round" />
<circle cx="794.3" cy="169.7" r="12.1" fill="#fff" stroke="#a6a6a6" stroke-width="1.1"/>
<rect x="49.9" y="437.2" width="129.1" height="82.2" fill="#d9eaf8"/>
<path d="M49.8,438.0L45.4,438.0M49.8,439.8L47.0,439.8M49.8,441.8L46.8,441.6M49.8,443.9L48.2,443.3M49.8,445.0L46.1,446.6M49.8,447.5L47.7,447.1M49.8,448.6L46.2,450.0M49.8,450.8L47.3,450.8M49.8,452.8L45.1,452.8M49.8,454.7L47.1,454.7M49.8,456.7L47.0,456.5M49.8,458.7L48.2,458.2M49.8,459.8L46.2,461.4M49.8,462.3L47.5,461.9M49.8,463.4L46.4,464.9M49.8,465.8L47.3,465.8M49.8,467.6L45.5,467.6M49.8,469.5L47.1,469.5M49.8,471.4L46.9,471.3M49.8,473.5L48.3,473.0M49.8,474.4L46.4,476.2M49.8,477.1L47.5,476.8M49.8,478.4L46.4,479.9M49.8,480.8L47.3,480.8M49.8,482.7L45.1,482.7M49.8,484.5L47.2,484.5M49.8,486.4L46.9,486.3M49.8,488.5L48.3,488.0M49.8,489.7L46.3,491.4M49.8,492.2L47.5,491.9M49.8,493.6L46.1,495.0M49.8,495.9L47.5,495.9M49.8,497.6L45.2,497.6M49.8,499.4L47.1,499.4M49.8,501.3L46.9,501.1M49.8,503.2L48.2,502.6M49.8,504.4L46.2,505.9M49.8,507.0L47.5,506.6M49.8,508.1L46.2,509.6M49.8,510.5L47.4,510.5M49.8,512.3L45.2,512.3M49.8,514.0L47.1,514.0M49.8,515.9L46.8,515.7M49.8,518.0L48.3,517.5" fill="none" stroke="#5d656e" stroke-width="0.70" stroke-linecap="round"/>
<path d="M179.1,438.1L184.0,438.1M179.1,440.0L181.9,440.0M179.1,442.1L182.4,442.0M179.1,444.2L180.7,443.7M179.1,445.5L182.7,447.0M179.1,448.2L181.5,447.8M179.1,449.6L183.0,450.9M179.1,452.1L181.7,452.1M179.1,454.0L184.1,454.0M179.1,455.8L181.8,455.8M179.1,457.9L182.3,457.8M179.1,460.1L180.8,459.5M179.1,461.3L183.0,463.0M179.1,464.1L181.5,463.7M179.1,465.3L182.8,466.7M179.1,467.7L181.6,467.7M179.1,469.6L184.0,469.6M179.1,471.5L181.9,471.5M179.1,473.7L182.3,473.5M179.1,475.7L180.8,475.2M179.1,476.9L183.1,478.6M179.1,479.6L181.5,479.2M179.1,481.1L182.8,482.4M179.1,483.5L181.6,483.5M179.1,485.6L184.1,485.6M179.1,487.6L181.9,487.6M179.1,489.6L182.2,489.5M179.1,491.8L180.7,491.2M179.1,493.2L182.9,494.7M179.1,496.0L181.5,495.6M179.1,497.2L182.8,498.7M179.1,499.8L181.7,499.8M179.1,501.7L184.1,501.7M179.1,503.8L182.0,503.8M179.1,506.0L182.3,505.8M179.1,508.0L180.8,507.5M179.1,509.1L182.9,511.0M179.1,512.0L181.4,511.6M179.1,513.2L183.1,514.8M179.1,515.7L181.7,515.7M179.1,517.6L184.0,517.6" fill="none" stroke="#5d656e" stroke-width="0.70" stroke-linecap="round"/>
<polyline points="52.2,451.2 65.1,442.9 81.1,449.6 97.3,442.9 114.5,449.1 127.1,442.9 143.6,448.5 160.8,442.2 176.2,446.5" fill="none" stroke="#4b5763" stroke-width="0.9" stroke-linejoin="round" stroke-linecap="round" />
<polyline points="52.2,457.9 61.5,460.6" fill="none" stroke="#4b5763" stroke-width="0.9" stroke-linejoin="round" stroke-linecap="round" />
<polyline points="164.3,457.5 176.2,453.2" fill="none" stroke="#4b5763" stroke-width="0.9" stroke-linejoin="round" stroke-linecap="round" />
<polyline points="52.2,475.2 61.5,471.1" fill="none" stroke="#4b5763" stroke-width="0.9" stroke-linejoin="round" stroke-linecap="round" />
<polyline points="164.3,473.2 176.2,465.8" fill="none" stroke="#4b5763" stroke-width="0.9" stroke-linejoin="round" stroke-linecap="round" />
<polyline points="52.2,481.0 61.5,486.8" fill="none" stroke="#4b5763" stroke-width="0.9" stroke-linejoin="round" stroke-linecap="round" />
<polyline points="164.3,489.3 176.2,485.2" fill="none" stroke="#4b5763" stroke-width="0.9" stroke-linejoin="round" stroke-linecap="round" />
<polyline points="52.2,496.2 65.9,500.9 80.0,494.0 91.8,499.5 109.0,494.0 127.9,497.8 140.4,494.0 156.9,497.8 176.2,492.3" fill="none" stroke="#4b5763" stroke-width="0.9" stroke-linejoin="round" stroke-linecap="round" />
<polyline points="52.2,513.6 65.1,508.0 81.6,513.6 96.5,508.0 108.3,513.6 122.4,507.7 137.3,513.6 149.8,505.3 162.4,513.6 176.2,503.7" fill="none" stroke="#4b5763" stroke-width="0.9" stroke-linejoin="round" stroke-linecap="round" />
<path d="M 46.0,384.6 L 179.0,384.6 L 181.7,428.7 Q 181.7,429.4 180.8,429.5 L 44.2,430.0 Q 43.3,430.0 43.3,429.1 Z" fill="#fff" stroke="none" stroke-width="0" stroke-linejoin="round" stroke-linecap="round" />
<path d="M 46.0,384.8 L 179.0,384.8" fill="none" stroke="#2f2f2f" stroke-width="1.05" stroke-linejoin="round" stroke-linecap="round" />
<path d="M 46.0,384.8 L 43.3,429.1 Q 43.3,430.0 44.2,430.0 L 180.8,429.5 Q 181.7,429.4 181.7,428.7 L 179.0,384.8" fill="none" stroke="#2f2f2f" stroke-width="1.55" stroke-linejoin="round" stroke-linecap="round" />
<path d="M 46.2,385.4 Q 52.0,396.8 70.0,400.0 Q 86.0,401.3 112.0,401.2 Q 138.0,401.3 154.0,400.2 Q 172.0,396.8 178.8,385.4" fill="none" stroke="#2f2f2f" stroke-width="1.0" stroke-linejoin="round" stroke-linecap="round" />
<polyline points="94.4,401.4 94.4,429.6" fill="none" stroke="#2f2f2f" stroke-width="1.0" stroke-linejoin="round" stroke-linecap="round" />
<polyline points="95.6,401.4 95.6,429.6" fill="none" stroke="#2f2f2f" stroke-width="0.6" stroke-linejoin="round" stroke-linecap="round" />
<polyline points="131.4,401.4 131.4,429.6" fill="none" stroke="#2f2f2f" stroke-width="1.0" stroke-linejoin="round" stroke-linecap="round" />
<polyline points="59.9,414.3 59.9,429.6" fill="none" stroke="#2f2f2f" stroke-width="1.0" stroke-linejoin="round" stroke-linecap="round" />
<polyline points="62.0,413.8 62.0,429.6" fill="none" stroke="#2f2f2f" stroke-width="1.0" stroke-linejoin="round" stroke-linecap="round" />
<polyline points="163.0,415.3 163.0,429.6" fill="none" stroke="#2f2f2f" stroke-width="1.0" stroke-linejoin="round" stroke-linecap="round" />
<polyline points="165.6,414.3 165.6,429.6" fill="none" stroke="#2f2f2f" stroke-width="1.0" stroke-linejoin="round" stroke-linecap="round" />
<path d="M54.01,402.50Q53.50,401.20 54.87,400.89Q61.10,398.99 67.73,398.01Q69.10,397.70 69.69,398.97Q72.48,403.78 74.31,408.83Q74.90,410.10 73.55,410.48Q67.05,412.81 60.15,414.22Q58.80,414.60 58.29,413.30Q55.67,408.02 54.01,402.50Z" fill="#fff" stroke="#2f2f2f" stroke-width="1.0" stroke-linejoin="round" stroke-linecap="round" />
<path d="M152.13,405.29Q151.40,404.10 152.68,403.54Q158.64,400.37 165.12,398.06Q166.40,397.50 167.10,398.71Q170.46,403.50 172.90,408.69Q173.60,409.90 172.32,410.46Q166.51,413.53 160.18,415.74Q158.90,416.30 158.17,415.11Q154.69,410.40 152.13,405.29Z" fill="#fff" stroke="#2f2f2f" stroke-width="1.0" stroke-linejoin="round" stroke-linecap="round" />
<circle cx="205.6" cy="415.3" r="12.5" fill="#fff" stroke="#a6a6a6" stroke-width="1.1"/>
<rect x="61.5" y="454.3" width="102.8" height="38.1" rx="0" fill="#fff" stroke="#c3ccd6" stroke-width="1.0"/>
<path d="M 189.6,433.6 L 230.6,435.8 Q 234.0,436.2 234.2,439.4 L 234.2,511.4 Q 234.0,514.4 231.0,514.8 L 190.6,518.2 Q 189.6,518.2 189.6,517.2 Z" fill="#fff" stroke="#2f2f2f" stroke-width="1.6" stroke-linejoin="round" stroke-linecap="round" />
<path d="M 233.0,436.6 Q 222.5,439.9 220.2,449.9 Q 218.6,475.4 219.8,499.9 Q 222.5,510.4 233.0,513.6" fill="none" stroke="#2f2f2f" stroke-width="1.0" stroke-linejoin="round" stroke-linecap="round" />
<polyline points="190.0,450.4 219.8,450.4" fill="none" stroke="#2f2f2f" stroke-width="1.0" stroke-linejoin="round" stroke-linecap="round" />
<polyline points="190.0,454.7 219.4,454.7" fill="none" stroke="#2f2f2f" stroke-width="1.5" stroke-linejoin="round" stroke-linecap="round" />
<polyline points="190.0,497.0 206.0,497.0" fill="none" stroke="#2f2f2f" stroke-width="1.0" stroke-linejoin="round" stroke-linecap="round" />
<polyline points="190.0,501.2 206.0,501.2" fill="none" stroke="#2f2f2f" stroke-width="1.0" stroke-linejoin="round" stroke-linecap="round" />
<path d="M209.93,483.75Q210.30,482.40 211.51,483.10Q215.88,485.07 219.99,488.00Q221.20,488.70 220.83,490.05Q219.02,498.53 216.37,506.45Q216.00,507.80 214.88,506.96Q210.62,504.33 206.62,500.74Q205.50,499.90 205.87,498.55Q207.48,490.87 209.93,483.75Z" fill="#fff" stroke="#2f2f2f" stroke-width="1.0" stroke-linejoin="round" stroke-linecap="round" />
<rect x="400.0" y="451.2" width="125.1" height="86.3" fill="#d9eaf8"/>
<path d="M399.9,452.0L395.5,452.0M399.9,453.8L397.2,453.8M399.9,455.7L396.8,455.6M399.9,457.9L398.3,457.3M399.9,459.1L396.3,460.6M399.9,461.7L397.7,461.3M399.9,463.1L396.5,464.4M399.9,465.4L397.4,465.4M399.9,467.3L395.5,467.3M399.9,469.3L397.2,469.3M399.9,471.3L397.0,471.1M399.9,473.3L398.3,472.7M399.9,474.5L396.2,476.2M399.9,477.1L397.8,476.7M399.9,478.3L396.5,479.7M399.9,480.6L397.5,480.6M399.9,482.4L395.2,482.4M399.9,484.2L397.3,484.2M399.9,486.0L396.9,485.8M399.9,488.1L398.3,487.5M399.9,489.4L396.2,491.0M399.9,491.9L397.7,491.5M399.9,493.3L396.2,494.8M399.9,495.5L397.5,495.5M399.9,497.4L395.4,497.4M399.9,499.4L397.3,499.4M399.9,501.3L397.1,501.2M399.9,503.2L398.3,502.6M399.9,504.3L396.1,505.9M399.9,507.0L397.7,506.6M399.9,508.1L396.3,509.5M399.9,510.6L397.6,510.6M399.9,512.6L395.6,512.6M399.9,514.5L397.2,514.5M399.9,516.4L396.8,516.3M399.9,518.5L398.3,517.9M399.9,519.5L396.5,521.2M399.9,522.1L397.6,521.6M399.9,523.3L396.4,524.9M399.9,525.7L397.5,525.7M399.9,527.6L395.3,527.6M399.9,529.4L397.2,529.4M399.9,531.4L397.1,531.3M399.9,533.5L398.4,533.0M399.9,534.5L396.2,536.0M399.9,536.9L397.8,536.5" fill="none" stroke="#5d656e" stroke-width="0.70" stroke-linecap="round"/>
<path d="M525.2,452.1L530.1,452.1M525.2,454.1L528.0,454.1M525.2,456.0L528.4,455.9M525.2,458.3L526.8,457.8M525.2,459.5L529.0,460.9M525.2,462.0L527.4,461.7M525.2,463.3L528.8,464.6M525.2,465.8L527.7,465.8M525.2,467.8L530.1,467.8M525.2,469.8L528.0,469.8M525.2,471.8L528.2,471.7M525.2,473.9L526.8,473.4M525.2,474.9L529.0,476.7M525.2,477.7L527.5,477.3M525.2,478.8L529.0,480.3M525.2,481.3L527.7,481.3M525.2,483.1L529.7,483.1M525.2,485.0L528.0,485.0M525.2,487.0L528.3,486.9M525.2,489.0L526.9,488.4M525.2,490.2L528.9,492.1M525.2,493.0L527.4,492.6M525.2,494.4L529.0,496.0M525.2,496.9L527.8,496.9M525.2,498.9L529.7,498.9M525.2,501.0L527.9,501.0M525.2,502.8L528.3,502.7M525.2,505.0L526.8,504.4M525.2,506.2L528.8,507.8M525.2,508.7L527.5,508.3M525.2,509.8L529.0,511.5M525.2,512.3L527.7,512.3M525.2,514.4L529.7,514.4M525.2,516.2L528.1,516.2M525.2,518.3L528.2,518.2M525.2,520.4L526.9,519.8M525.2,521.5L528.9,522.9M525.2,524.0L527.5,523.6M525.2,525.2L529.1,526.6M525.2,527.7L527.8,527.7M525.2,529.7L529.9,529.7M525.2,531.7L527.9,531.7M525.2,533.7L528.4,533.6M525.2,535.8L526.9,535.3" fill="none" stroke="#5d656e" stroke-width="0.70" stroke-linecap="round"/>
<polyline points="402.2,466.2 414.3,458.3 419.8,460.4" fill="none" stroke="#4b5763" stroke-width="0.9" stroke-linejoin="round" stroke-linecap="round" />
<polyline points="402.2,473.7 415.9,478.4 419.8,476.9" fill="none" stroke="#4b5763" stroke-width="0.9" stroke-linejoin="round" stroke-linecap="round" />
<polyline points="402.2,491.6 415.9,485.5 419.8,487.0" fill="none" stroke="#4b5763" stroke-width="0.9" stroke-linejoin="round" stroke-linecap="round" />
<polyline points="402.2,498.4 415.1,506.2 419.8,504.3" fill="none" stroke="#4b5763" stroke-width="0.9" stroke-linejoin="round" stroke-linecap="round" />
<polyline points="402.2,513.6 415.1,518.3 417.5,517.2" fill="none" stroke="#4b5763" stroke-width="0.9" stroke-linejoin="round" stroke-linecap="round" />
<polyline points="402.2,531.3 414.3,526.1 431.1,531.3 445.7,525.5 456.7,531.3 470.8,525.5 484.1,531.3 498.3,523.0 509.3,531.3 523.1,521.6" fill="none" stroke="#4b5763" stroke-width="0.9" stroke-linejoin="round" stroke-linecap="round" />
<polyline points="505.3,458.3 512.4,458.3 522.6,461.9" fill="none" stroke="#4b5763" stroke-width="0.9" stroke-linejoin="round" stroke-linecap="round" />
<polyline points="505.3,474.5 522.6,469.0" fill="none" stroke="#4b5763" stroke-width="0.9" stroke-linejoin="round" stroke-linecap="round" />
<polyline points="505.3,488.6 509.3,491.3 522.6,481.9" fill="none" stroke="#4b5763" stroke-width="0.9" stroke-linejoin="round" stroke-linecap="round" />
<polyline points="505.3,506.2 522.6,502.3" fill="none" stroke="#4b5763" stroke-width="0.9" stroke-linejoin="round" stroke-linecap="round" />
<polyline points="508.5,513.0 522.6,508.5" fill="none" stroke="#4b5763" stroke-width="0.9" stroke-linejoin="round" stroke-linecap="round" />
<rect x="370.0" y="391.4" width="39.0" height="20.6" rx="0" fill="#fff" stroke="#2f2f2f" stroke-width="1.0"/>
<ellipse cx="379.4" cy="397.0" rx="2.1" ry="1.4" fill="none" stroke="#999" stroke-width="0.7"/>
<ellipse cx="379.4" cy="407.3" rx="2.1" ry="1.4" fill="none" stroke="#999" stroke-width="0.7"/>
<ellipse cx="400.4" cy="397.0" rx="2.1" ry="1.4" fill="none" stroke="#999" stroke-width="0.7"/>
<ellipse cx="400.4" cy="407.3" rx="2.1" ry="1.4" fill="none" stroke="#999" stroke-width="0.7"/>
<rect x="516.4" y="391.4" width="38.8" height="20.6" rx="0" fill="#fff" stroke="#2f2f2f" stroke-width="1.0"/>
<ellipse cx="525.7" cy="397.0" rx="2.1" ry="1.4" fill="none" stroke="#999" stroke-width="0.7"/>
<ellipse cx="525.7" cy="407.3" rx="2.1" ry="1.4" fill="none" stroke="#999" stroke-width="0.7"/>
<ellipse cx="546.7" cy="397.0" rx="2.1" ry="1.4" fill="none" stroke="#999" stroke-width="0.7"/>
<ellipse cx="546.7" cy="407.3" rx="2.1" ry="1.4" fill="none" stroke="#999" stroke-width="0.7"/>
<path d="M 419.6,394.3 L 419.6,507.8 Q 419.6,511.2 423.0,511.2 L 501.5,511.2 Q 504.9,511.2 504.9,507.8 L 504.9,394.3 Z" fill="#fff" stroke="#2f2f2f" stroke-width="1.15" stroke-linejoin="round" stroke-linecap="round" />
<polyline points="420.7,395.3 420.7,428.3" fill="none" stroke="#2f2f2f" stroke-width="0.8049999999999999" stroke-linejoin="round" stroke-linecap="round" />
<polyline points="503.9,395.3 503.9,412.3" fill="none" stroke="#2f2f2f" stroke-width="0.8049999999999999" stroke-linejoin="round" stroke-linecap="round" />
<path d="M 416.6,386.6 L 508.4,386.6 Q 509.2,388.8 508.4,391.1 L 416.6,391.1 Q 415.8,388.8 416.6,386.6 Z" fill="#fff" stroke="#2f2f2f" stroke-width="1.15" stroke-linejoin="round" stroke-linecap="round" />
<path d="M 417.4,391.1 L 507.6,391.1 L 505.2,394.0 L 419.4,394.0 Z" fill="#fff" stroke="#2f2f2f" stroke-width="1.15" stroke-linejoin="round" stroke-linecap="round" />
<polyline points="419.6,395.5 504.9,395.5" fill="none" stroke="#2f2f2f" stroke-width="0.9199999999999999" stroke-linejoin="round" stroke-linecap="round" />
<path d="M425.29,402.80Q425.20,401.20 426.80,401.17Q442.77,400.20 458.80,400.63Q460.40,400.60 460.44,402.20Q461.40,411.41 460.96,420.70Q461.00,422.30 459.41,422.47Q443.83,424.80 428.19,425.73Q426.60,425.90 426.51,424.30Q425.20,413.59 425.29,402.80Z" fill="#fff" stroke="#2f2f2f" stroke-width="1.15" stroke-linejoin="round" stroke-linecap="round" />
<path d="M465.16,402.20Q465.20,400.60 466.80,400.64Q482.90,400.35 499.00,401.46Q500.60,401.50 500.64,403.10Q501.50,409.87 500.96,416.70Q501.00,418.30 499.41,418.47Q482.80,421.00 466.19,422.13Q464.60,422.30 464.64,420.70Q464.20,411.48 465.16,402.20Z" fill="#fff" stroke="#2f2f2f" stroke-width="1.15" stroke-linejoin="round" stroke-linecap="round" />
<path d="M 419.6,428.7 Q 464.0,422.3 504.9,412.5 L 504.9,466.3 L 419.6,466.3 Z" fill="#fff" stroke="none" stroke-width="0" stroke-linejoin="round" stroke-linecap="round" />
<path d="M 419.6,428.7 Q 464.0,422.8 504.9,412.5" fill="none" stroke="#2f2f2f" stroke-width="1.15" stroke-linejoin="round" stroke-linecap="round" />
<path d="M 419.6,444.3 L 422.6,446.7 Q 440.0,428.3 480.0,416.9" fill="none" stroke="#2f2f2f" stroke-width="1.15" stroke-linejoin="round" stroke-linecap="round" />
<path d="M 419.6,444.3 L 427.4,454.7 Q 454.0,428.3 504.9,412.5" fill="none" stroke="#2f2f2f" stroke-width="1.15" stroke-linejoin="round" stroke-linecap="round" />
<path d="M 419.6,394.3 L 419.6,507.8 Q 419.6,511.2 423.0,511.2 L 501.5,511.2 Q 504.9,511.2 504.9,507.8 L 504.9,394.3" fill="none" stroke="#2f2f2f" stroke-width="1.15" stroke-linejoin="round" stroke-linecap="round" />
<path d="M 419.4,511.2 L 505.1,511.2 L 507.6,514.6 L 417.4,514.6 Z" fill="#fff" stroke="#2f2f2f" stroke-width="1.15" stroke-linejoin="round" stroke-linecap="round" />
<path d="M 416.6,514.6 L 508.4,514.6 Q 509.2,516.0 508.4,517.5 L 416.6,517.5 Q 415.8,516.0 416.6,514.6 Z" fill="#fff" stroke="#2f2f2f" stroke-width="1.15" stroke-linejoin="round" stroke-linecap="round" />
<rect x="686.0" y="378.2" width="240.6" height="166.7" fill="#d9eaf8"/>
<path d="M685.9,379.9L676.7,379.9M685.9,383.8L680.5,383.8M685.9,387.8L679.9,387.6M685.9,391.8L682.7,390.8M685.9,394.1L678.3,397.5M685.9,399.4L681.4,398.7M685.9,401.8L678.4,404.4M685.9,406.3L680.6,406.3M685.9,410.4L676.6,410.4M685.9,414.2L680.6,414.2M685.9,417.9L679.9,417.7M685.9,421.7L682.7,420.7M685.9,423.8L678.3,427.4M685.9,429.0L681.5,428.3M685.9,431.3L678.8,434.1M685.9,436.1L681.1,436.1M685.9,439.8L676.8,439.8M685.9,443.5L680.6,443.5M685.9,447.5L679.8,447.2M685.9,451.8L682.7,450.8M685.9,454.1L678.3,457.0M685.9,459.3L681.1,458.5M685.9,461.7L678.6,464.8M685.9,466.7L680.7,466.7M685.9,470.5L676.5,470.5M685.9,474.1L680.2,474.1M685.9,477.9L679.9,477.6M685.9,481.8L682.8,480.7M685.9,483.7L678.3,487.3M685.9,489.1L681.5,488.3M685.9,491.5L678.7,494.0M685.9,496.1L681.1,496.1M685.9,499.7L676.7,499.7M685.9,503.5L680.3,503.5M685.9,507.4L680.1,507.2M685.9,511.3L682.6,510.2M685.9,513.9L678.8,516.7M685.9,519.0L681.3,518.3M685.9,521.4L678.6,524.4M685.9,526.4L680.7,526.4M685.9,530.4L676.7,530.4M685.9,533.9L680.2,533.9M685.9,537.9L679.6,537.6M685.9,541.9L682.6,540.6" fill="none" stroke="#2a2a2a" stroke-width="1.19" stroke-linecap="round"/>
<path d="M926.9,379.8L936.1,379.8M926.9,383.7L932.0,383.7M926.9,387.6L932.6,387.4M926.9,391.4L930.2,390.1M926.9,393.3L933.7,396.3M926.9,398.2L931.4,397.5M926.9,400.8L933.7,403.2M926.9,405.0L931.7,405.0M926.9,408.7L936.1,408.7M926.9,412.2L932.1,412.2M926.9,415.8L932.6,415.5M926.9,419.7L929.9,418.8M926.9,422.0L934.0,425.1M926.9,426.7L931.1,426.0M926.9,428.9L934.2,432.0M926.9,433.8L931.6,433.8M926.9,437.6L935.6,437.6M926.9,441.3L932.1,441.3M926.9,445.0L932.9,444.7M926.9,448.6L929.8,447.5M926.9,450.6L934.0,453.4M926.9,455.5L931.2,454.8M926.9,457.7L933.9,460.5M926.9,462.1L931.9,462.1M926.9,466.0L936.1,466.0M926.9,469.6L932.3,469.6M926.9,473.1L932.9,472.8M926.9,476.8L930.0,475.8M926.9,479.0L933.7,482.3M926.9,483.8L931.2,483.0M926.9,486.3L933.7,488.6M926.9,490.8L931.5,490.8M926.9,494.5L935.5,494.5M926.9,498.2L932.3,498.2M926.9,501.7L932.7,501.4M926.9,505.7L929.9,504.4M926.9,507.8L933.9,510.5M926.9,512.8L931.3,512.1M926.9,515.2L933.8,517.9M926.9,519.8L931.5,519.8M926.9,523.5L935.3,523.5M926.9,527.3L932.1,527.3M926.9,531.1L933.0,530.8M926.9,535.0L930.0,533.9M926.9,537.1L934.2,540.5M926.9,542.4L931.3,541.6" fill="none" stroke="#2a2a2a" stroke-width="1.14" stroke-linecap="round"/>
<polyline points="689.5,407.5 699.2,400.2" fill="none" stroke="#333a42" stroke-width="1.25" stroke-linejoin="round" stroke-linecap="round" />
<polyline points="738.6,401.1 743.2,404.7 754.6,399.3" fill="none" stroke="#333a42" stroke-width="1.25" stroke-linejoin="round" stroke-linecap="round" />
<polyline points="689.5,421.1 715.0,430.5 740.5,417.5 754.6,423.8" fill="none" stroke="#333a42" stroke-width="1.25" stroke-linejoin="round" stroke-linecap="round" />
<polyline points="689.5,455.6 713.2,444.7 745.0,455.6 754.6,452.0" fill="none" stroke="#333a42" stroke-width="1.25" stroke-linejoin="round" stroke-linecap="round" />
<polyline points="689.5,468.4 714.1,484.4 744.1,471.1 754.6,475.6" fill="none" stroke="#333a42" stroke-width="1.25" stroke-linejoin="round" stroke-linecap="round" />
<polyline points="689.5,498.0 715.9,507.5 741.4,494.4 754.6,500.2" fill="none" stroke="#333a42" stroke-width="1.25" stroke-linejoin="round" stroke-linecap="round" />
<polyline points="689.5,532.9 714.1,521.5 745.9,532.9 774.1,521.5 794.1,532.9 821.8,521.5 850.0,532.4 873.6,516.5 895.5,532.0 921.8,513.8" fill="none" stroke="#333a42" stroke-width="1.25" stroke-linejoin="round" stroke-linecap="round" />
<polyline points="858.2,402.0 873.6,396.5 891.8,390.0 912.7,395.6 921.8,398.9" fill="none" stroke="#333a42" stroke-width="1.25" stroke-linejoin="round" stroke-linecap="round" />
<polyline points="858.2,418.4 885.5,423.5 921.8,412.9" fill="none" stroke="#333a42" stroke-width="1.25" stroke-linejoin="round" stroke-linecap="round" />
<polyline points="858.2,449.3 872.7,439.8 895.5,455.3 921.8,436.5" fill="none" stroke="#333a42" stroke-width="1.25" stroke-linejoin="round" stroke-linecap="round" />
<polyline points="858.2,473.5 892.7,485.1 921.8,476.5" fill="none" stroke="#333a42" stroke-width="1.25" stroke-linejoin="round" stroke-linecap="round" />
<polyline points="858.2,495.3 885.5,500.7 921.8,489.3" fill="none" stroke="#333a42" stroke-width="1.25" stroke-linejoin="round" stroke-linecap="round" />
<rect x="699.3" y="391.2" width="39.3" height="20.8" rx="0" fill="#fff" stroke="#5a5a5a" stroke-width="0.9"/>
<ellipse cx="708.7" cy="396.8" rx="2.2" ry="1.5" fill="none" stroke="#999" stroke-width="0.7"/>
<ellipse cx="708.7" cy="407.2" rx="2.2" ry="1.5" fill="none" stroke="#999" stroke-width="0.7"/>
<ellipse cx="730.0" cy="396.8" rx="2.2" ry="1.5" fill="none" stroke="#999" stroke-width="0.7"/>
<ellipse cx="730.0" cy="407.2" rx="2.2" ry="1.5" fill="none" stroke="#999" stroke-width="0.7"/>
<rect x="873.7" y="391.2" width="39.1" height="20.8" rx="0" fill="#fff" stroke="#5a5a5a" stroke-width="0.9"/>
<ellipse cx="883.1" cy="396.8" rx="2.2" ry="1.5" fill="none" stroke="#999" stroke-width="0.7"/>
<ellipse cx="883.1" cy="407.2" rx="2.2" ry="1.5" fill="none" stroke="#999" stroke-width="0.7"/>
<ellipse cx="904.2" cy="396.8" rx="2.2" ry="1.5" fill="none" stroke="#999" stroke-width="0.7"/>
<ellipse cx="904.2" cy="407.2" rx="2.2" ry="1.5" fill="none" stroke="#999" stroke-width="0.7"/>
<path d="M 754.8,392.5 L 754.8,508.2 Q 754.8,511.7 758.9,511.7 L 854.0,511.7 Q 858.1,511.7 858.1,508.2 L 858.1,392.5 Z" fill="#fff" stroke="#2f2f2f" stroke-width="1.15" stroke-linejoin="round" stroke-linecap="round" />
<polyline points="756.1,393.5 756.1,427.1" fill="none" stroke="#2f2f2f" stroke-width="0.8049999999999999" stroke-linejoin="round" stroke-linecap="round" />
<polyline points="856.9,393.5 856.9,410.8" fill="none" stroke="#2f2f2f" stroke-width="0.8049999999999999" stroke-linejoin="round" stroke-linecap="round" />
<path d="M 751.1,384.6 L 862.4,384.6 Q 863.4,386.9 862.4,389.2 L 751.1,389.2 Q 750.2,386.9 751.1,384.6 Z" fill="#fff" stroke="#2f2f2f" stroke-width="1.15" stroke-linejoin="round" stroke-linecap="round" />
<path d="M 752.1,389.2 L 861.4,389.2 L 858.5,392.2 L 754.5,392.2 Z" fill="#fff" stroke="#2f2f2f" stroke-width="1.15" stroke-linejoin="round" stroke-linecap="round" />
<polyline points="754.8,393.7 858.1,393.7" fill="none" stroke="#2f2f2f" stroke-width="0.9199999999999999" stroke-linejoin="round" stroke-linecap="round" />
<path d="M761.68,401.43Q761.55,399.50 763.49,399.47Q782.84,398.34 802.27,398.91Q804.21,398.89 804.28,400.82Q805.42,409.91 804.88,419.08Q804.94,421.02 803.01,421.19Q784.14,423.70 765.18,424.52Q763.25,424.69 763.12,422.76Q761.55,412.14 761.68,401.43Z" fill="#fff" stroke="#2f2f2f" stroke-width="1.15" stroke-linejoin="round" stroke-linecap="round" />
<path d="M809.97,400.82Q810.03,398.89 811.97,398.93Q831.49,398.50 851.00,399.76Q852.94,399.80 852.99,401.74Q854.03,408.34 853.37,415.00Q853.42,416.94 851.49,417.12Q831.36,419.83 811.23,420.84Q809.30,421.02 809.37,419.08Q808.82,409.98 809.97,400.82Z" fill="#fff" stroke="#2f2f2f" stroke-width="1.15" stroke-linejoin="round" stroke-linecap="round" />
<path d="M 754.8,427.5 Q 808.6,421.0 858.1,411.0 L 858.1,465.9 L 754.8,465.9 Z" fill="#fff" stroke="none" stroke-width="0" stroke-linejoin="round" stroke-linecap="round" />
<path d="M 754.8,427.5 Q 808.6,421.5 858.1,411.0" fill="none" stroke="#2f2f2f" stroke-width="1.15" stroke-linejoin="round" stroke-linecap="round" />
<path d="M 754.8,443.5 L 758.4,445.9 Q 779.5,427.1 828.0,415.5" fill="none" stroke="#2f2f2f" stroke-width="1.15" stroke-linejoin="round" stroke-linecap="round" />
<path d="M 754.8,443.5 L 764.2,454.1 Q 796.5,427.1 858.1,411.0" fill="none" stroke="#2f2f2f" stroke-width="1.15" stroke-linejoin="round" stroke-linecap="round" />
<path d="M 754.8,392.5 L 754.8,508.2 Q 754.8,511.7 758.9,511.7 L 854.0,511.7 Q 858.1,511.7 858.1,508.2 L 858.1,392.5" fill="none" stroke="#2f2f2f" stroke-width="1.15" stroke-linejoin="round" stroke-linecap="round" />
<path d="M 754.5,511.7 L 858.4,511.7 L 861.4,515.2 L 752.1,515.2 Z" fill="#fff" stroke="#2f2f2f" stroke-width="1.15" stroke-linejoin="round" stroke-linecap="round" />
<path d="M 751.1,515.2 L 862.4,515.2 Q 863.4,516.6 862.4,518.1 L 751.1,518.1 Q 750.2,516.6 751.1,515.2 Z" fill="#fff" stroke="#2f2f2f" stroke-width="1.15" stroke-linejoin="round" stroke-linecap="round" />
<circle cx="118.4" cy="826.1" r="82.6" fill="#d9eaf8"/>
<clipPath id="c7"><circle cx="118.4" cy="826.1" r="81.39999999999999"/></clipPath>
<g clip-path="url(#c7)">
<polyline points="66.0,762.4 71.6,761.6 93.8,748.2 118.9,761.0 136.6,748.2 161.0,760.1 166.2,758.1" fill="none" stroke="#333a42" stroke-width="1.05" stroke-linejoin="round" stroke-linecap="round" />
<polyline points="44.3,789.3 49.8,790.9 68.2,777.3 76.0,782.2" fill="none" stroke="#333a42" stroke-width="1.05" stroke-linejoin="round" stroke-linecap="round" />
<polyline points="97.8,781.8 111.6,776.7 118.5,778.6 132.5,783.2" fill="none" stroke="#333a42" stroke-width="1.05" stroke-linejoin="round" stroke-linecap="round" />
<polyline points="160.0,778.6 178.8,783.7 187.8,780.4" fill="none" stroke="#333a42" stroke-width="1.05" stroke-linejoin="round" stroke-linecap="round" />
<polyline points="37.4,814.4 48.4,806.6 70.1,816.9 77.5,815.5" fill="none" stroke="#333a42" stroke-width="1.05" stroke-linejoin="round" stroke-linecap="round" />
<polyline points="171.2,802.9 186.6,818.1 198.5,806.2" fill="none" stroke="#333a42" stroke-width="1.05" stroke-linejoin="round" stroke-linecap="round" />
<polyline points="37.3,840.3 46.9,849.3 71.7,835.4 77.0,838.5" fill="none" stroke="#333a42" stroke-width="1.05" stroke-linejoin="round" stroke-linecap="round" />
<polyline points="162.1,837.3 185.0,850.3 198.3,844.7" fill="none" stroke="#333a42" stroke-width="1.05" stroke-linejoin="round" stroke-linecap="round" />
<polyline points="51.8,874.1 63.8,865.2 70.0,869.0" fill="none" stroke="#333a42" stroke-width="1.05" stroke-linejoin="round" stroke-linecap="round" />
<polyline points="173.1,864.2 180.0,867.2 193.9,861.2" fill="none" stroke="#333a42" stroke-width="1.05" stroke-linejoin="round" stroke-linecap="round" />
<polyline points="79.1,898.0 93.6,890.0 110.5,900.9 131.3,889.6 150.2,899.5 171.1,885.4 173.1,887.6" fill="none" stroke="#333a42" stroke-width="1.05" stroke-linejoin="round" stroke-linecap="round" />
</g>
<g transform="translate(93.6,803.1) rotate(-45) scale(0.97)" fill="none" stroke="#2f2f2f" stroke-width="1.4" stroke-linejoin="round" stroke-linecap="round"><path d="M-19.4,-28.1 L19.4,-28.1 Q20.4,-28.1 20.4,-27.1 L20.4,-24.8 Q19.6,-19.5 16.8,-15.4 L20.2,1 L-20.2,1 L-16.8,-15.4 Q-19.6,-19.5 -20.4,-24.8 L-20.4,-27.1 Q-20.4,-28.1 -19.4,-28.1 Z" fill="#fff"/><path d="M-20.2,-24.2 L20.2,-24.2"/><path d="M-16.8,-15.4 L-12.6,-14.9 L-14.9,1 M16.8,-15.4 L12.6,-14.9 L14.9,1"/><path d="M-12.6,-13.9 L12.6,-13.9"/></g>
<g transform="translate(143.4,803.1) rotate(45) scale(0.97)" fill="none" stroke="#2f2f2f" stroke-width="1.4" stroke-linejoin="round" stroke-linecap="round"><path d="M-19.4,-28.1 L19.4,-28.1 Q20.4,-28.1 20.4,-27.1 L20.4,-24.8 Q19.6,-19.5 16.8,-15.4 L20.2,1 L-20.2,1 L-16.8,-15.4 Q-19.6,-19.5 -20.4,-24.8 L-20.4,-27.1 Q-20.4,-28.1 -19.4,-28.1 Z" fill="#fff"/><path d="M-20.2,-24.2 L20.2,-24.2"/><path d="M-16.8,-15.4 L-12.6,-14.9 L-14.9,1 M16.8,-15.4 L12.6,-14.9 L14.9,1"/><path d="M-12.6,-13.9 L12.6,-13.9"/></g>
<g transform="translate(143.4,852.9) rotate(135) scale(0.97)" fill="none" stroke="#2f2f2f" stroke-width="1.4" stroke-linejoin="round" stroke-linecap="round"><path d="M-19.4,-28.1 L19.4,-28.1 Q20.4,-28.1 20.4,-27.1 L20.4,-24.8 Q19.6,-19.5 16.8,-15.4 L20.2,1 L-20.2,1 L-16.8,-15.4 Q-19.6,-19.5 -20.4,-24.8 L-20.4,-27.1 Q-20.4,-28.1 -19.4,-28.1 Z" fill="#fff"/><path d="M-20.2,-24.2 L20.2,-24.2"/><path d="M-16.8,-15.4 L-12.6,-14.9 L-14.9,1 M16.8,-15.4 L12.6,-14.9 L14.9,1"/><path d="M-12.6,-13.9 L12.6,-13.9"/></g>
<g transform="translate(93.6,852.9) rotate(-135) scale(0.97)" fill="none" stroke="#2f2f2f" stroke-width="1.4" stroke-linejoin="round" stroke-linecap="round"><path d="M-19.4,-28.1 L19.4,-28.1 Q20.4,-28.1 20.4,-27.1 L20.4,-24.8 Q19.6,-19.5 16.8,-15.4 L20.2,1 L-20.2,1 L-16.8,-15.4 Q-19.6,-19.5 -20.4,-24.8 L-20.4,-27.1 Q-20.4,-28.1 -19.4,-28.1 Z" fill="#fff"/><path d="M-20.2,-24.2 L20.2,-24.2"/><path d="M-16.8,-15.4 L-12.6,-14.9 L-14.9,1 M16.8,-15.4 L12.6,-14.9 L14.9,1"/><path d="M-12.6,-13.9 L12.6,-13.9"/></g>
<polygon points="118.5,778.2 168.3,828.0 118.5,877.8 68.7,828.0" fill="#fff" stroke="#2f2f2f" stroke-width="1.5" stroke-linejoin="round" stroke-linecap="round" />
<circle cx="117.0" cy="797.8" r="3.1" fill="none" stroke="#2e2e2e" stroke-width="1.0" stroke-dasharray="1.15 1.05"/>
<circle cx="87.8" cy="827.4" r="3.1" fill="none" stroke="#2e2e2e" stroke-width="1.0" stroke-dasharray="1.15 1.05"/>
<circle cx="148.2" cy="828.4" r="3.1" fill="none" stroke="#2e2e2e" stroke-width="1.0" stroke-dasharray="1.15 1.05"/>
<circle cx="118.6" cy="858.2" r="3.1" fill="none" stroke="#2e2e2e" stroke-width="1.0" stroke-dasharray="1.15 1.05"/>
<rect x="389.6" y="777.5" width="146.4" height="101.3" fill="#d9eaf8"/>
<path d="M389.5,778.5L383.9,778.5M389.5,780.9L386.2,780.9M389.5,783.1L385.9,782.9M389.5,785.6L387.5,785.0M389.5,787.1L385.1,788.8M389.5,790.0L386.7,789.5M389.5,791.5L384.8,793.4M389.5,794.6L386.5,794.6M389.5,797.0L384.1,797.0M389.5,799.2L386.2,799.2M389.5,801.8L385.8,801.6M389.5,804.2L387.6,803.5M389.5,805.7L384.9,807.4M389.5,808.6L386.8,808.2M389.5,810.0L384.9,811.9M389.5,812.9L386.6,812.9M389.5,815.1L383.8,815.1M389.5,817.6L386.3,817.6M389.5,819.8L385.7,819.6M389.5,822.2L387.5,821.4M389.5,823.3L385.2,825.5M389.5,826.5L386.9,826.0M389.5,828.3L385.1,829.8M389.5,831.0L386.4,831.0M389.5,833.3L383.8,833.3M389.5,835.6L386.2,835.6M389.5,837.9L385.8,837.8M389.5,840.5L387.5,839.9M389.5,842.1L384.9,844.0M389.5,845.2L386.7,844.7M389.5,846.7L384.8,848.6M389.5,849.7L386.5,849.7M389.5,851.9L383.7,851.9M389.5,854.3L386.2,854.3M389.5,856.7L386.0,856.5M389.5,859.3L387.6,858.7M389.5,860.8L385.2,862.9M389.5,863.9L386.7,863.4M389.5,865.2L385.1,867.1M389.5,868.2L386.5,868.2M389.5,870.4L383.6,870.4M389.5,872.7L386.1,872.7M389.5,875.2L385.8,875.1M389.5,877.9L387.6,877.2" fill="none" stroke="#5d656e" stroke-width="0.73" stroke-linecap="round"/>
<path d="M536.1,778.5L541.4,778.5M536.1,780.8L539.5,780.8M536.1,783.2L539.8,783.1M536.1,785.8L538.0,785.1M536.1,787.0L540.4,789.1M536.1,790.0L538.7,789.6M536.1,791.5L540.5,793.1M536.1,794.2L538.9,794.2M536.1,796.4L541.6,796.4M536.1,798.7L539.3,798.7M536.1,801.1L539.8,801.0M536.1,803.4L538.0,802.7M536.1,805.0L540.4,806.7M536.1,807.8L538.7,807.4M536.1,809.6L540.7,811.2M536.1,812.2L539.2,812.2M536.1,814.6L541.5,814.6M536.1,817.0L539.4,817.0M536.1,819.4L539.7,819.2M536.1,821.7L538.0,821.1M536.1,823.2L540.6,824.8M536.1,826.1L538.8,825.7M536.1,827.7L540.6,829.4M536.1,830.6L539.0,830.6M536.1,832.9L541.7,832.9M536.1,835.2L539.4,835.2M536.1,837.5L539.7,837.3M536.1,840.0L538.1,839.4M536.1,841.2L540.4,843.3M536.1,844.3L538.9,843.8M536.1,845.6L540.6,847.4M536.1,848.5L539.1,848.5M536.1,850.7L541.8,850.7M536.1,853.1L539.5,853.1M536.1,855.4L539.6,855.3M536.1,858.0L537.9,857.3M536.1,859.5L540.4,861.5M536.1,862.7L538.9,862.2M536.1,864.3L540.4,865.9M536.1,867.3L539.2,867.3M536.1,869.5L541.5,869.5M536.1,871.7L539.2,871.7M536.1,873.9L539.8,873.7M536.1,876.2L538.1,875.5" fill="none" stroke="#5d656e" stroke-width="0.72" stroke-linecap="round"/>
<polyline points="392.2,795.0 406.1,784.9 424.7,793.2 442.7,785.1" fill="none" stroke="#4b5763" stroke-width="0.9" stroke-linejoin="round" stroke-linecap="round" />
<polyline points="392.2,803.7 407.9,808.9 423.5,800.8 427.0,802.5" fill="none" stroke="#4b5763" stroke-width="0.9" stroke-linejoin="round" stroke-linecap="round" />
<polyline points="392.2,824.6 398.6,821.1" fill="none" stroke="#4b5763" stroke-width="0.9" stroke-linejoin="round" stroke-linecap="round" />
<polyline points="392.2,831.0 398.6,836.2" fill="none" stroke="#4b5763" stroke-width="0.9" stroke-linejoin="round" stroke-linecap="round" />
<polyline points="392.2,850.1 407.3,855.9 421.8,847.8 427.0,849.0" fill="none" stroke="#4b5763" stroke-width="0.9" stroke-linejoin="round" stroke-linecap="round" />
<polyline points="392.2,871.0 406.1,864.1 425.9,871.3 441.5,864.6" fill="none" stroke="#4b5763" stroke-width="0.9" stroke-linejoin="round" stroke-linecap="round" />
<polyline points="481.7,787.4 496.2,791.5 514.2,784.5 532.8,789.2" fill="none" stroke="#4b5763" stroke-width="0.9" stroke-linejoin="round" stroke-linecap="round" />
<polyline points="498.2,802.5 511.9,804.6 532.8,798.2" fill="none" stroke="#4b5763" stroke-width="0.9" stroke-linejoin="round" stroke-linecap="round" />
<polyline points="526.1,817.0 532.8,812.7" fill="none" stroke="#4b5763" stroke-width="0.9" stroke-linejoin="round" stroke-linecap="round" />
<polyline points="526.1,838.5 532.8,836.8" fill="none" stroke="#4b5763" stroke-width="0.9" stroke-linejoin="round" stroke-linecap="round" />
<polyline points="498.2,848.4 511.9,851.3 532.8,844.9" fill="none" stroke="#4b5763" stroke-width="0.9" stroke-linejoin="round" stroke-linecap="round" />
<polyline points="482.3,868.7 488.7,870.8 503.2,861.7 517.1,871.0 532.8,859.4" fill="none" stroke="#4b5763" stroke-width="0.9" stroke-linejoin="round" stroke-linecap="round" />
<g transform="translate(462.4,792.3) rotate(0) scale(1.0)" fill="none" stroke="#2f2f2f" stroke-width="1.35" stroke-linejoin="round" stroke-linecap="round"><path d="M-19.4,-28.1 L19.4,-28.1 Q20.4,-28.1 20.4,-27.1 L20.4,-24.8 Q19.6,-19.5 16.8,-15.4 L20.2,1 L-20.2,1 L-16.8,-15.4 Q-19.6,-19.5 -20.4,-24.8 L-20.4,-27.1 Q-20.4,-28.1 -19.4,-28.1 Z" fill="#fff"/><path d="M-20.2,-24.2 L20.2,-24.2"/><path d="M-16.8,-15.4 L-12.6,-14.9 L-14.9,1 M16.8,-15.4 L12.6,-14.9 L14.9,1"/><path d="M-12.6,-13.9 L12.6,-13.9"/></g>
<g transform="translate(462.4,863.3) rotate(180) scale(1.0)" fill="none" stroke="#2f2f2f" stroke-width="1.35" stroke-linejoin="round" stroke-linecap="round"><path d="M-19.4,-28.1 L19.4,-28.1 Q20.4,-28.1 20.4,-27.1 L20.4,-24.8 Q19.6,-19.5 16.8,-15.4 L20.2,1 L-20.2,1 L-16.8,-15.4 Q-19.6,-19.5 -20.4,-24.8 L-20.4,-27.1 Q-20.4,-28.1 -19.4,-28.1 Z" fill="#fff"/><path d="M-20.2,-24.2 L20.2,-24.2"/><path d="M-16.8,-15.4 L-12.6,-14.9 L-14.9,1 M16.8,-15.4 L12.6,-14.9 L14.9,1"/><path d="M-12.6,-13.9 L12.6,-13.9"/></g>
<g transform="translate(427.0,828.0) rotate(-90) scale(1.0)" fill="none" stroke="#2f2f2f" stroke-width="1.35" stroke-linejoin="round" stroke-linecap="round"><path d="M-19.4,-28.1 L19.4,-28.1 Q20.4,-28.1 20.4,-27.1 L20.4,-24.8 Q19.6,-19.5 16.8,-15.4 L20.2,1 L-20.2,1 L-16.8,-15.4 Q-19.6,-19.5 -20.4,-24.8 L-20.4,-27.1 Q-20.4,-28.1 -19.4,-28.1 Z" fill="#fff"/><path d="M-20.2,-24.2 L20.2,-24.2"/><path d="M-16.8,-15.4 L-12.6,-14.9 L-14.9,1 M16.8,-15.4 L12.6,-14.9 L14.9,1"/><path d="M-12.6,-13.9 L12.6,-13.9"/></g>
<g transform="translate(498.2,827.6) rotate(90) scale(1.0)" fill="none" stroke="#2f2f2f" stroke-width="1.35" stroke-linejoin="round" stroke-linecap="round"><path d="M-19.4,-28.1 L19.4,-28.1 Q20.4,-28.1 20.4,-27.1 L20.4,-24.8 Q19.6,-19.5 16.8,-15.4 L20.2,1 L-20.2,1 L-16.8,-15.4 Q-19.6,-19.5 -20.4,-24.8 L-20.4,-27.1 Q-20.4,-28.1 -19.4,-28.1 Z" fill="#fff"/><path d="M-20.2,-24.2 L20.2,-24.2"/><path d="M-16.8,-15.4 L-12.6,-14.9 L-14.9,1 M16.8,-15.4 L12.6,-14.9 L14.9,1"/><path d="M-12.6,-13.9 L12.6,-13.9"/></g>
<rect x="427.0" y="792.3" width="71.2" height="71.0" rx="0" fill="#fff" stroke="#2f2f2f" stroke-width="1.5"/>
<circle cx="441.3" cy="805.9" r="3.1" fill="none" stroke="#2e2e2e" stroke-width="1.0" stroke-dasharray="1.15 1.05"/>
<circle cx="483.0" cy="805.9" r="3.1" fill="none" stroke="#2e2e2e" stroke-width="1.0" stroke-dasharray="1.15 1.05"/>
<circle cx="441.3" cy="849.6" r="3.1" fill="none" stroke="#2e2e2e" stroke-width="1.0" stroke-dasharray="1.15 1.05"/>
<circle cx="483.0" cy="849.6" r="3.1" fill="none" stroke="#2e2e2e" stroke-width="1.0" stroke-dasharray="1.15 1.05"/>
<rect x="710.6" y="769.1" width="191.8" height="133.0" fill="#d9eaf8"/>
<path d="M710.5,770.3L704.2,770.3M710.5,773.1L706.7,773.1M710.5,776.0L706.1,775.8M710.5,779.1L708.2,778.3M710.5,780.6L705.2,783.2M710.5,784.3L707.2,783.7M710.5,785.9L705.0,787.9M710.5,789.3L707.0,789.3M710.5,792.3L704.0,792.3M710.5,795.1L706.4,795.1M710.5,797.8L706.2,797.7M710.5,800.7L708.1,799.9M710.5,802.3L705.4,804.3M710.5,806.1L707.4,805.6M710.5,807.7L705.4,810.0M710.5,811.2L706.9,811.2M710.5,813.9L703.7,813.9M710.5,816.7L706.6,816.7M710.5,819.5L706.2,819.3M710.5,822.6L708.1,821.8M710.5,824.2L705.3,826.5M710.5,827.8L707.2,827.2M710.5,829.7L705.4,831.8M710.5,833.2L706.9,833.2M710.5,835.7L703.6,835.7M710.5,838.3L706.4,838.3M710.5,840.8L706.1,840.6M710.5,843.7L708.3,842.8M710.5,845.4L705.4,847.7M710.5,849.0L707.1,848.6M710.5,850.9L705.1,853.1M710.5,854.3L706.8,854.3M710.5,856.8L703.8,856.8M710.5,859.5L706.7,859.5M710.5,862.3L706.0,862.1M710.5,865.2L708.2,864.4M710.5,866.6L705.4,869.1M710.5,870.5L707.4,869.9M710.5,872.6L705.5,874.4M710.5,876.1L706.9,876.1M710.5,879.0L703.9,879.0M710.5,881.6L706.7,881.6M710.5,884.5L706.4,884.3M710.5,887.5L708.1,886.7M710.5,888.9L705.1,891.4M710.5,892.7L707.2,892.3M710.5,894.5L705.4,896.5M710.5,897.8L706.9,897.8M710.5,900.8L704.1,900.8" fill="none" stroke="#2a2a2a" stroke-width="0.86" stroke-linecap="round"/>
<path d="M902.5,770.4L909.3,770.4M902.5,773.2L906.6,773.2M902.5,776.4L907.1,776.1M902.5,779.5L904.9,778.5M902.5,781.3L908.0,783.8M902.5,785.1L906.0,784.5M902.5,787.0L907.8,789.1M902.5,790.6L906.1,790.6M902.5,793.6L909.6,793.6M902.5,796.5L906.8,796.5M902.5,799.2L907.0,799.0M902.5,802.4L905.0,801.6M902.5,804.0L907.8,806.4M902.5,807.9L905.7,807.3M902.5,809.6L907.9,812.0M902.5,813.4L906.4,813.4M902.5,816.3L909.1,816.3M902.5,819.2L906.8,819.2M902.5,821.9L907.2,821.7M902.5,825.1L904.9,824.3M902.5,826.8L907.8,829.0M902.5,830.6L906.1,830.0M902.5,832.4L907.8,834.8M902.5,835.9L906.1,835.9M902.5,838.7L909.7,838.7M902.5,841.7L906.8,841.7M902.5,844.8L907.0,844.6M902.5,848.0L904.8,847.1M902.5,849.7L908.2,851.9M902.5,853.7L905.8,853.1M902.5,855.5L907.9,857.8M902.5,859.3L906.4,859.3M902.5,862.3L909.5,862.3M902.5,865.0L906.6,865.0M902.5,868.0L906.9,867.8M902.5,871.1L905.0,870.4M902.5,872.8L907.9,874.8M902.5,876.7L906.0,876.1M902.5,878.6L907.9,880.7M902.5,882.0L906.4,882.0M902.5,885.0L909.3,885.0M902.5,887.7L906.5,887.7M902.5,890.4L907.0,890.2M902.5,893.5L904.8,892.6M902.5,895.2L908.1,897.4M902.5,898.9L905.8,898.4" fill="none" stroke="#2a2a2a" stroke-width="0.90" stroke-linecap="round"/>
<polyline points="713.3,792.2 732.0,779.3 751.8,788.5" fill="none" stroke="#333a42" stroke-width="1.15" stroke-linejoin="round" stroke-linecap="round" />
<polyline points="779.6,779.6 793.5,784.4" fill="none" stroke="#333a42" stroke-width="1.15" stroke-linejoin="round" stroke-linecap="round" />
<polyline points="818.9,782.6 824.0,779.4 835.0,783.3" fill="none" stroke="#333a42" stroke-width="1.15" stroke-linejoin="round" stroke-linecap="round" />
<polyline points="860.7,784.0 873.8,778.9 898.0,785.5" fill="none" stroke="#333a42" stroke-width="1.15" stroke-linejoin="round" stroke-linecap="round" />
<polyline points="713.3,803.4 733.9,810.3 738.4,809.2" fill="none" stroke="#333a42" stroke-width="1.15" stroke-linejoin="round" stroke-linecap="round" />
<polyline points="873.6,803.8 898.0,795.8" fill="none" stroke="#333a42" stroke-width="1.15" stroke-linejoin="round" stroke-linecap="round" />
<polyline points="889.2,821.4 898.0,815.5" fill="none" stroke="#333a42" stroke-width="1.15" stroke-linejoin="round" stroke-linecap="round" />
<polyline points="724.2,847.6 733.4,853.3 738.6,851.0" fill="none" stroke="#333a42" stroke-width="1.15" stroke-linejoin="round" stroke-linecap="round" />
<polyline points="873.6,854.1 891.4,849.2" fill="none" stroke="#333a42" stroke-width="1.15" stroke-linejoin="round" stroke-linecap="round" />
<polyline points="713.2,864.8 733.9,872.0 738.6,870.6" fill="none" stroke="#333a42" stroke-width="1.15" stroke-linejoin="round" stroke-linecap="round" />
<polyline points="873.6,865.3 898.0,858.0" fill="none" stroke="#333a42" stroke-width="1.15" stroke-linejoin="round" stroke-linecap="round" />
<polyline points="713.2,892.7 732.8,883.5 753.5,891.1" fill="none" stroke="#333a42" stroke-width="1.15" stroke-linejoin="round" stroke-linecap="round" />
<polyline points="781.1,884.2 794.6,891.1" fill="none" stroke="#333a42" stroke-width="1.15" stroke-linejoin="round" stroke-linecap="round" />
<polyline points="821.8,884.4 835.0,889.5" fill="none" stroke="#333a42" stroke-width="1.15" stroke-linejoin="round" stroke-linecap="round" />
<polyline points="862.1,880.7 876.8,892.1 898.7,877.5" fill="none" stroke="#333a42" stroke-width="1.15" stroke-linejoin="round" stroke-linecap="round" />
<g transform="translate(765.6,795.2) rotate(0) scale(0.735 0.79)" fill="none" stroke="#a0a0a0" stroke-width="1.25" stroke-linejoin="round" stroke-linecap="round"><path d="M-19.4,-28.1 L19.4,-28.1 Q20.4,-28.1 20.4,-27.1 L20.4,-24.8 Q19.6,-19.5 16.8,-15.4 L20.2,1 L-20.2,1 L-16.8,-15.4 Q-19.6,-19.5 -20.4,-24.8 L-20.4,-27.1 Q-20.4,-28.1 -19.4,-28.1 Z" fill="#fff"/><path d="M-20.2,-24.2 L20.2,-24.2"/><path d="M-16.8,-15.4 L-12.6,-14.9 L-14.9,1 M16.8,-15.4 L12.6,-14.9 L14.9,1"/><path d="M-12.6,-13.9 L12.6,-13.9"/></g>
<g transform="translate(806.6,795.2) rotate(0) scale(0.735 0.79)" fill="none" stroke="#a0a0a0" stroke-width="1.25" stroke-linejoin="round" stroke-linecap="round"><path d="M-19.4,-28.1 L19.4,-28.1 Q20.4,-28.1 20.4,-27.1 L20.4,-24.8 Q19.6,-19.5 16.8,-15.4 L20.2,1 L-20.2,1 L-16.8,-15.4 Q-19.6,-19.5 -20.4,-24.8 L-20.4,-27.1 Q-20.4,-28.1 -19.4,-28.1 Z" fill="#fff"/><path d="M-20.2,-24.2 L20.2,-24.2"/><path d="M-16.8,-15.4 L-12.6,-14.9 L-14.9,1 M16.8,-15.4 L12.6,-14.9 L14.9,1"/><path d="M-12.6,-13.9 L12.6,-13.9"/></g>
<g transform="translate(847.5,795.2) rotate(0) scale(0.735 0.79)" fill="none" stroke="#a0a0a0" stroke-width="1.25" stroke-linejoin="round" stroke-linecap="round"><path d="M-19.4,-28.1 L19.4,-28.1 Q20.4,-28.1 20.4,-27.1 L20.4,-24.8 Q19.6,-19.5 16.8,-15.4 L20.2,1 L-20.2,1 L-16.8,-15.4 Q-19.6,-19.5 -20.4,-24.8 L-20.4,-27.1 Q-20.4,-28.1 -19.4,-28.1 Z" fill="#fff"/><path d="M-20.2,-24.2 L20.2,-24.2"/><path d="M-16.8,-15.4 L-12.6,-14.9 L-14.9,1 M16.8,-15.4 L12.6,-14.9 L14.9,1"/><path d="M-12.6,-13.9 L12.6,-13.9"/></g>
<g transform="translate(767.4,875.2) rotate(180) scale(0.735 0.79)" fill="none" stroke="#a0a0a0" stroke-width="1.25" stroke-linejoin="round" stroke-linecap="round"><path d="M-19.4,-28.1 L19.4,-28.1 Q20.4,-28.1 20.4,-27.1 L20.4,-24.8 Q19.6,-19.5 16.8,-15.4 L20.2,1 L-20.2,1 L-16.8,-15.4 Q-19.6,-19.5 -20.4,-24.8 L-20.4,-27.1 Q-20.4,-28.1 -19.4,-28.1 Z" fill="#fff"/><path d="M-20.2,-24.2 L20.2,-24.2"/><path d="M-16.8,-15.4 L-12.6,-14.9 L-14.9,1 M16.8,-15.4 L12.6,-14.9 L14.9,1"/><path d="M-12.6,-13.9 L12.6,-13.9"/></g>
<g transform="translate(808.7,875.2) rotate(180) scale(0.735 0.79)" fill="none" stroke="#a0a0a0" stroke-width="1.25" stroke-linejoin="round" stroke-linecap="round"><path d="M-19.4,-28.1 L19.4,-28.1 Q20.4,-28.1 20.4,-27.1 L20.4,-24.8 Q19.6,-19.5 16.8,-15.4 L20.2,1 L-20.2,1 L-16.8,-15.4 Q-19.6,-19.5 -20.4,-24.8 L-20.4,-27.1 Q-20.4,-28.1 -19.4,-28.1 Z" fill="#fff"/><path d="M-20.2,-24.2 L20.2,-24.2"/><path d="M-16.8,-15.4 L-12.6,-14.9 L-14.9,1 M16.8,-15.4 L12.6,-14.9 L14.9,1"/><path d="M-12.6,-13.9 L12.6,-13.9"/></g>
<g transform="translate(848.6,875.2) rotate(180) scale(0.735 0.79)" fill="none" stroke="#a0a0a0" stroke-width="1.25" stroke-linejoin="round" stroke-linecap="round"><path d="M-19.4,-28.1 L19.4,-28.1 Q20.4,-28.1 20.4,-27.1 L20.4,-24.8 Q19.6,-19.5 16.8,-15.4 L20.2,1 L-20.2,1 L-16.8,-15.4 Q-19.6,-19.5 -20.4,-24.8 L-20.4,-27.1 Q-20.4,-28.1 -19.4,-28.1 Z" fill="#fff"/><path d="M-20.2,-24.2 L20.2,-24.2"/><path d="M-16.8,-15.4 L-12.6,-14.9 L-14.9,1 M16.8,-15.4 L12.6,-14.9 L14.9,1"/><path d="M-12.6,-13.9 L12.6,-13.9"/></g>
<g transform="translate(738.4,835.2) rotate(-90) scale(0.735 0.86)" fill="none" stroke="#a0a0a0" stroke-width="1.25" stroke-linejoin="round" stroke-linecap="round"><path d="M-19.4,-28.1 L19.4,-28.1 Q20.4,-28.1 20.4,-27.1 L20.4,-24.8 Q19.6,-19.5 16.8,-15.4 L20.2,1 L-20.2,1 L-16.8,-15.4 Q-19.6,-19.5 -20.4,-24.8 L-20.4,-27.1 Q-20.4,-28.1 -19.4,-28.1 Z" fill="#fff"/><path d="M-20.2,-24.2 L20.2,-24.2"/><path d="M-16.8,-15.4 L-12.6,-14.9 L-14.9,1 M16.8,-15.4 L12.6,-14.9 L14.9,1"/><path d="M-12.6,-13.9 L12.6,-13.9"/></g>
<g transform="translate(873.8,835.3) rotate(90) scale(0.735 0.92)" fill="none" stroke="#a0a0a0" stroke-width="1.25" stroke-linejoin="round" stroke-linecap="round"><path d="M-19.4,-28.1 L19.4,-28.1 Q20.4,-28.1 20.4,-27.1 L20.4,-24.8 Q19.6,-19.5 16.8,-15.4 L20.2,1 L-20.2,1 L-16.8,-15.4 Q-19.6,-19.5 -20.4,-24.8 L-20.4,-27.1 Q-20.4,-28.1 -19.4,-28.1 Z" fill="#fff"/><path d="M-20.2,-24.2 L20.2,-24.2"/><path d="M-16.8,-15.4 L-12.6,-14.9 L-14.9,1 M16.8,-15.4 L12.6,-14.9 L14.9,1"/><path d="M-12.6,-13.9 L12.6,-13.9"/></g>
<rect x="738.4" y="795.2" width="135.4" height="80.0" rx="0" fill="#fff" stroke="#1c1c1c" stroke-width="1.7"/>
<circle cx="764.6" cy="810.7" r="3.1" fill="none" stroke="#2e2e2e" stroke-width="1.0" stroke-dasharray="1.15 1.05"/>
<circle cx="850.0" cy="810.7" r="3.1" fill="none" stroke="#2e2e2e" stroke-width="1.0" stroke-dasharray="1.15 1.05"/>
<circle cx="764.6" cy="858.3" r="3.1" fill="none" stroke="#2e2e2e" stroke-width="1.0" stroke-dasharray="1.15 1.05"/>
<circle cx="850.0" cy="858.3" r="3.1" fill="none" stroke="#2e2e2e" stroke-width="1.0" stroke-dasharray="1.15 1.05"/>
<filter id="nf" x="0" y="0" width="956" height="990" filterUnits="userSpaceOnUse"><feOffset dx="0" dy="0"/></filter><g filter="url(#nf)">
<text x="71.04" y="220.9" font-size="18.5" fill="#262626" stroke="#262626" stroke-width="0.3" textLength="96.38" lengthAdjust="spacingAndGlyphs">BEDROOM</text>
<text x="63.38" y="237.5" font-size="13.3" fill="#262626" stroke="#262626" stroke-width="0.55" textLength="111.18" lengthAdjust="spacingAndGlyphs">8 FT X 10 FT RUG</text>
<text x="406.54" y="220.9" font-size="18.5" fill="#262626" stroke="#262626" stroke-width="0.3" textLength="112.38" lengthAdjust="spacingAndGlyphs">LVINGROOM</text>
<text x="402.94" y="237.5" font-size="13.3" fill="#262626" stroke="#262626" stroke-width="0.55" textLength="119.62" lengthAdjust="spacingAndGlyphs">10 FT X 14 FT RUG</text>
<text x="750.02" y="220.9" font-size="18.5" fill="#262626" stroke="#262626" stroke-width="0.3" textLength="112.40" lengthAdjust="spacingAndGlyphs">LVINGROOM</text>
<text x="750.86" y="237.5" font-size="13.3" fill="#262626" stroke="#262626" stroke-width="0.55" textLength="111.18" lengthAdjust="spacingAndGlyphs">8 FT X 10 FT RUG</text>
<text x="62.08" y="586.1" font-size="18.5" fill="#262626" stroke="#262626" stroke-width="0.3" textLength="112.40" lengthAdjust="spacingAndGlyphs">LVINGROOM</text>
<text x="67.40" y="603.2" font-size="13.3" fill="#262626" stroke="#262626" stroke-width="0.55" textLength="103.10" lengthAdjust="spacingAndGlyphs">5 FT X 7 FT RUG</text>
<text x="415.48" y="586.1" font-size="18.5" fill="#262626" stroke="#262626" stroke-width="0.3" textLength="95.02" lengthAdjust="spacingAndGlyphs">BEDROOM</text>
<text x="410.96" y="603.2" font-size="13.3" fill="#262626" stroke="#262626" stroke-width="0.55" textLength="103.54" lengthAdjust="spacingAndGlyphs">5 FT X 7 FT RUG</text>
<text x="758.52" y="586.1" font-size="18.5" fill="#262626" stroke="#262626" stroke-width="0.3" textLength="95.92" lengthAdjust="spacingAndGlyphs">BEDROOM</text>
<text x="746.46" y="603.2" font-size="13.3" fill="#262626" stroke="#262626" stroke-width="0.55" textLength="119.62" lengthAdjust="spacingAndGlyphs">10 FT X 14 FT RUG</text>
<text x="53.56" y="952.0" font-size="18.5" fill="#262626" stroke="#262626" stroke-width="0.3" textLength="129.94" lengthAdjust="spacingAndGlyphs">DINING ROOM</text>
<text x="77.96" y="968.5" font-size="13.3" fill="#262626" stroke="#262626" stroke-width="0.55" textLength="81.64" lengthAdjust="spacingAndGlyphs">ROUND 8 FT</text>
<text x="398.00" y="952.0" font-size="18.5" fill="#262626" stroke="#262626" stroke-width="0.3" textLength="129.00" lengthAdjust="spacingAndGlyphs">DINING ROOM</text>
<text x="428.38" y="968.5" font-size="13.3" fill="#262626" stroke="#262626" stroke-width="0.55" textLength="68.28" lengthAdjust="spacingAndGlyphs">5 FT X 7 FT</text>
<text x="741.06" y="952.0" font-size="18.5" fill="#262626" stroke="#262626" stroke-width="0.3" textLength="129.94" lengthAdjust="spacingAndGlyphs">DINING ROOM</text>
<text x="766.90" y="968.5" font-size="13.3" fill="#262626" stroke="#262626" stroke-width="0.55" textLength="77.72" lengthAdjust="spacingAndGlyphs">8 FT X 10 FT</text>
</g>
</svg>
</body></html>
